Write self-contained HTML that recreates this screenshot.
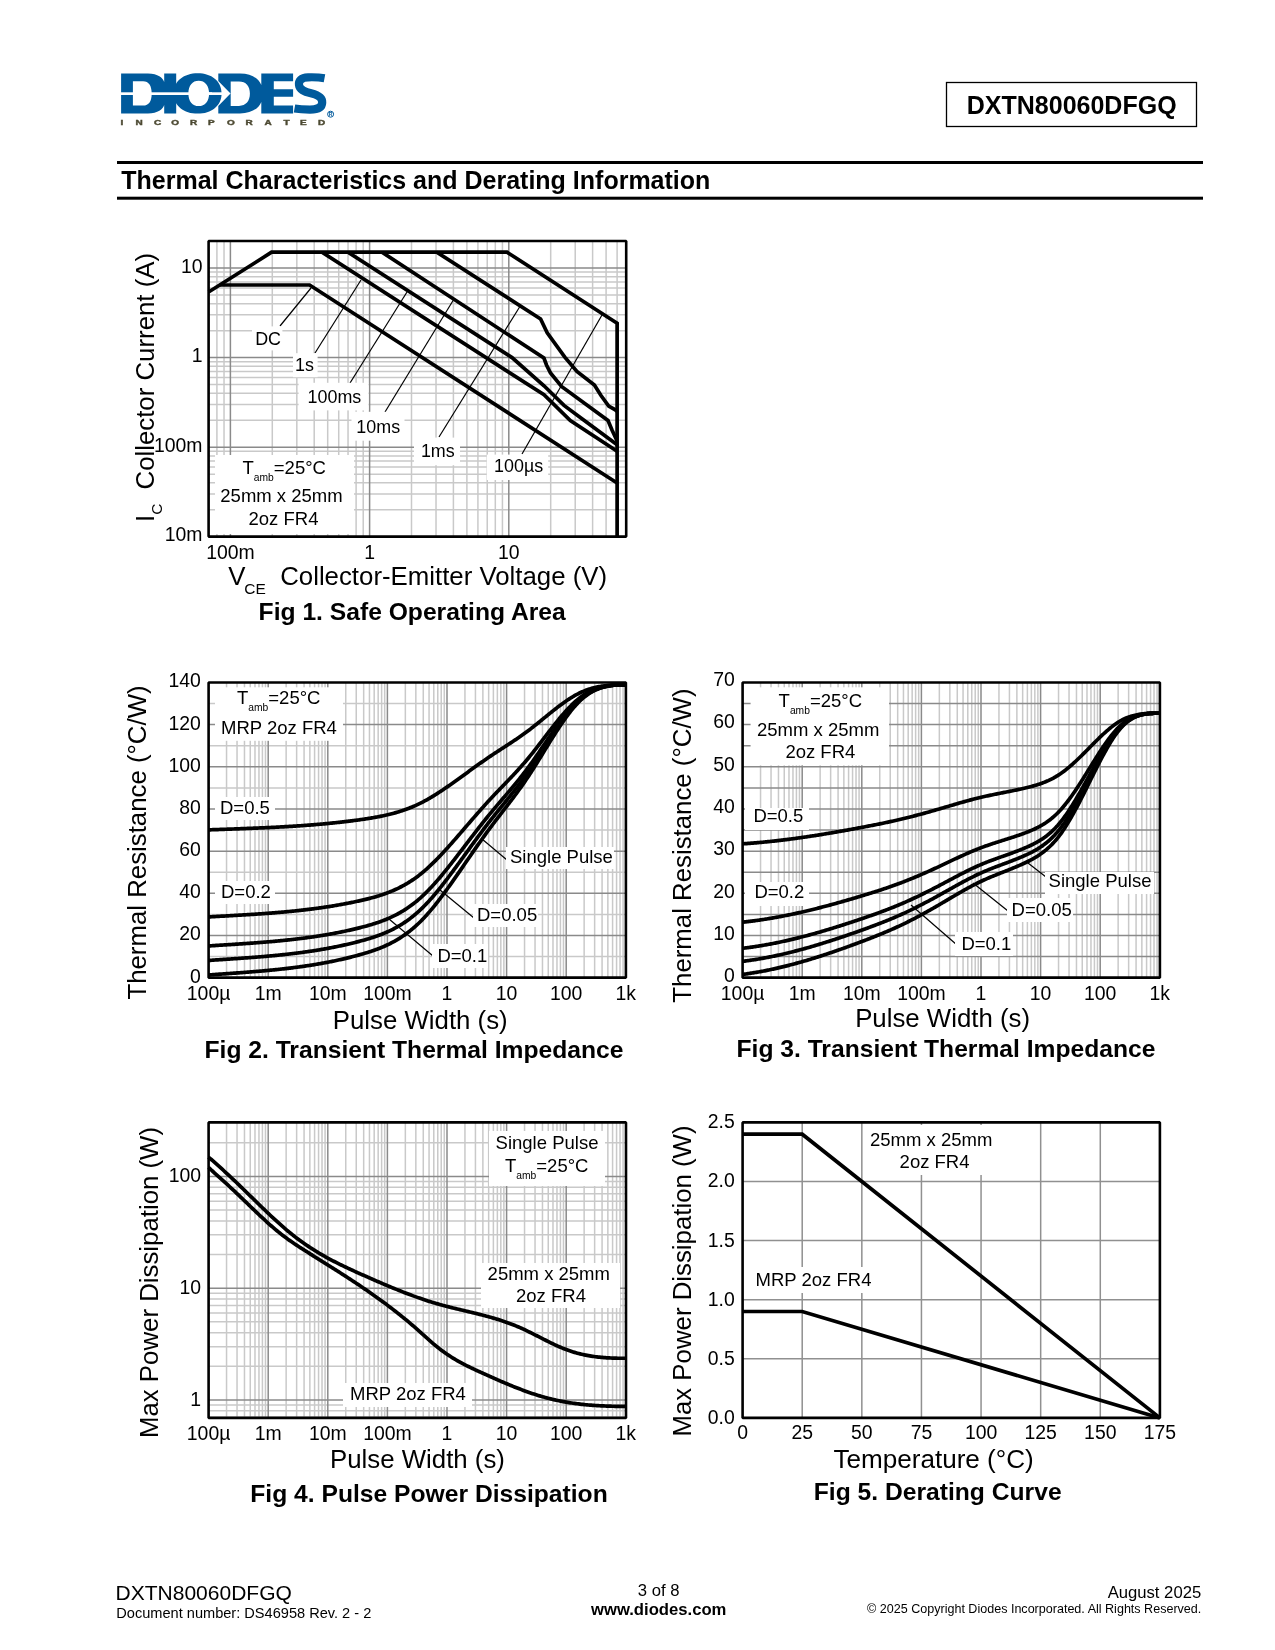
<!DOCTYPE html>
<html><head><meta charset="utf-8"><title>DXTN80060DFGQ</title>
<style>
html,body{margin:0;padding:0;background:#fff}
body{width:1275px;height:1650px;overflow:hidden;font-family:"Liberation Sans",sans-serif}
svg{display:block;font-family:"Liberation Sans",sans-serif;will-change:transform}
</style></head><body>
<svg width="1275" height="1650" viewBox="0 0 1275 1650">
<g fill="#005a9c">
<path fill-rule="evenodd" d="M121.1 73.5 H148 C158 73.5 163 78 164.2 82 V73.5 H176.2 V113.4 H164.2 V105 C163 109 158 113.4 148 113.4 H121.1 Z M132.9 81.2 V105.6 H143 C149 105.6 151.7 101 151.7 93.4 C151.7 86 149 81.2 143 81.2 Z"/>
<path fill-rule="evenodd" d="M218.3 73.5 H240 C252 73.5 259 79 261.3 85 V73.5 H293.1 V81.2 H273.8 V89.2 H293.1 V96.7 H273.8 V105.6 H293.1 V113.4 H261.3 V102 C259 108 252 113.4 240 113.4 H218.3 V105.9 L230.5 93.5 L218.3 80.9 Z M230.7 81.5 V105.9 H239 C246 105.9 249.9 101 249.9 93.6 C249.9 86 246 81.5 239 81.5 Z"/>
<path fill-rule="evenodd" d="M197.7 73.2 C184 73.2 173.6 81 173.6 93.4 C173.6 105.8 184 113.6 197.7 113.6 C211.4 113.6 221.6 105.8 221.6 93.4 C221.6 81 211.4 73.2 197.7 73.2 Z M198.7 80.7 C205 80.7 209.1 85.5 209.1 93.4 C209.1 101.3 205 106.1 198.7 106.1 C192.4 106.1 188.4 101.3 188.4 93.4 C188.4 85.5 192.4 80.7 198.7 80.7 Z"/>
</g>
<path d="M324.5 78.2 C318 77 312 77.2 308 77.3 C301 77.5 298.5 81 299 85 C299.5 89.5 304 91.5 311 93.3 C319 95.3 322.5 98 322.2 102.5 C322 107.5 317 109.6 310 109.6 C304 109.6 299 109.3 294.5 108.5" fill="none" stroke="#005a9c" stroke-width="8.2"/>
<rect x="120" y="92.3" width="92" height="2.7" fill="#fff" />
<rect x="208" y="92.3" width="14" height="2.7" fill="#fff" />
<circle cx="330.6" cy="114.2" r="3" fill="none" stroke="#005a9c" stroke-width="1"/>
<text x="330.6" y="116" font-size="5" font-weight="bold" text-anchor="middle" fill="#005a9c">R</text>
<text transform="translate(122 124.6) scale(1.35 1)" font-size="7.4" font-weight="bold" text-anchor="middle" fill="#4d4a33" stroke="#4d4a33" stroke-width="0.4">I</text>
<text transform="translate(139.2 124.6) scale(1.35 1)" font-size="7.4" font-weight="bold" text-anchor="middle" fill="#4d4a33" stroke="#4d4a33" stroke-width="0.4">N</text>
<text transform="translate(157.5 124.6) scale(1.35 1)" font-size="7.4" font-weight="bold" text-anchor="middle" fill="#4d4a33" stroke="#4d4a33" stroke-width="0.4">C</text>
<text transform="translate(175.2 124.6) scale(1.35 1)" font-size="7.4" font-weight="bold" text-anchor="middle" fill="#4d4a33" stroke="#4d4a33" stroke-width="0.4">O</text>
<text transform="translate(193.6 124.6) scale(1.35 1)" font-size="7.4" font-weight="bold" text-anchor="middle" fill="#4d4a33" stroke="#4d4a33" stroke-width="0.4">R</text>
<text transform="translate(211.4 124.6) scale(1.35 1)" font-size="7.4" font-weight="bold" text-anchor="middle" fill="#4d4a33" stroke="#4d4a33" stroke-width="0.4">P</text>
<text transform="translate(230.8 124.6) scale(1.35 1)" font-size="7.4" font-weight="bold" text-anchor="middle" fill="#4d4a33" stroke="#4d4a33" stroke-width="0.4">O</text>
<text transform="translate(249 124.6) scale(1.35 1)" font-size="7.4" font-weight="bold" text-anchor="middle" fill="#4d4a33" stroke="#4d4a33" stroke-width="0.4">R</text>
<text transform="translate(268 124.6) scale(1.35 1)" font-size="7.4" font-weight="bold" text-anchor="middle" fill="#4d4a33" stroke="#4d4a33" stroke-width="0.4">A</text>
<text transform="translate(286.5 124.6) scale(1.35 1)" font-size="7.4" font-weight="bold" text-anchor="middle" fill="#4d4a33" stroke="#4d4a33" stroke-width="0.4">T</text>
<text transform="translate(303.4 124.6) scale(1.35 1)" font-size="7.4" font-weight="bold" text-anchor="middle" fill="#4d4a33" stroke="#4d4a33" stroke-width="0.4">E</text>
<text transform="translate(321.5 124.6) scale(1.35 1)" font-size="7.4" font-weight="bold" text-anchor="middle" fill="#4d4a33" stroke="#4d4a33" stroke-width="0.4">D</text>
<rect x="946.5" y="82.5" width="250" height="44" fill="#fff" stroke="#000" stroke-width="1.3"/>
<text x="1071.7" y="113.8" font-size="25" text-anchor="middle" font-weight="bold" fill="#000" >DXTN80060DFGQ</text>
<rect x="117" y="161" width="1086" height="3" fill="#000" />
<rect x="117" y="196.7" width="1086" height="3" fill="#000" />
<text x="121.3" y="188.9" font-size="25" text-anchor="start" font-weight="bold" fill="#000" >Thermal Characteristics and Derating Information</text>
<rect x="208.6" y="241" width="417.6" height="295.6" fill="#fff" />
<path d="M216.91 241V536.6M224.03 241V536.6M272.3 241V536.6M296.82 241V536.6M314.21 241V536.6M327.7 241V536.6M338.72 241V536.6M348.04 241V536.6M356.11 241V536.6M363.23 241V536.6M411.5 241V536.6M436.02 241V536.6M453.41 241V536.6M466.9 241V536.6M477.92 241V536.6M487.24 241V536.6M495.31 241V536.6M502.43 241V536.6M550.7 241V536.6M575.22 241V536.6M592.61 241V536.6M606.1 241V536.6M617.12 241V536.6" stroke="#c9c9c9" stroke-width="1.5" fill="none"/>
<path d="M208.6 509.83H626.2M208.6 494.05H626.2M208.6 482.86H626.2M208.6 474.17H626.2M208.6 467.08H626.2M208.6 461.08H626.2M208.6 455.88H626.2M208.6 451.3H626.2M208.6 420.23H626.2M208.6 404.45H626.2M208.6 393.26H626.2M208.6 384.57H626.2M208.6 377.48H626.2M208.6 371.48H626.2M208.6 366.28H626.2M208.6 361.7H626.2M208.6 330.63H626.2M208.6 314.85H626.2M208.6 303.66H626.2M208.6 294.97H626.2M208.6 287.88H626.2M208.6 281.88H626.2M208.6 276.68H626.2M208.6 272.1H626.2" stroke="#c9c9c9" stroke-width="1.5" fill="none"/>
<path d="M230.4 241V536.6M369.6 241V536.6M508.8 241V536.6" stroke="#8a8a8a" stroke-width="1.5" fill="none"/>
<path d="M208.6 447.2H626.2M208.6 357.6H626.2M208.6 268H626.2" stroke="#8a8a8a" stroke-width="1.5" fill="none"/>
<line x1="311" y1="288" x2="280" y2="326" stroke="#000" stroke-width="1.2" />
<line x1="361" y1="280" x2="315" y2="353" stroke="#000" stroke-width="1.2" />
<line x1="407" y1="292" x2="350" y2="383" stroke="#000" stroke-width="1.2" />
<line x1="454" y1="299" x2="385" y2="412" stroke="#000" stroke-width="1.2" />
<line x1="519.6" y1="307" x2="439" y2="437" stroke="#000" stroke-width="1.2" />
<line x1="602" y1="315" x2="522" y2="454" stroke="#000" stroke-width="1.2" />
<rect x="252" y="326.4" width="30.4" height="24" fill="#fff" />
<text x="281" y="344.7" font-size="17.9" text-anchor="end" font-weight="normal" fill="#000" >DC</text>
<rect x="293" y="353.2" width="24.6" height="24" fill="#fff" />
<text x="314" y="371.1" font-size="17.9" text-anchor="end" font-weight="normal" fill="#000" >1s</text>
<rect x="298.6" y="382.8" width="69.9" height="27.6" fill="#fff" />
<text x="361.3" y="402.6" font-size="17.9" text-anchor="end" font-weight="normal" fill="#000" >100ms</text>
<rect x="351.5" y="411.8" width="53" height="28.9" fill="#fff" />
<text x="400.1" y="433" font-size="17.9" text-anchor="end" font-weight="normal" fill="#000" >10ms</text>
<rect x="414" y="437.6" width="46" height="27.6" fill="#fff" />
<text x="454.7" y="456.7" font-size="17.9" text-anchor="end" font-weight="normal" fill="#000" >1ms</text>
<rect x="486.8" y="454.6" width="61.4" height="25.4" fill="#fff" />
<text x="543.2" y="471.5" font-size="17.9" text-anchor="end" font-weight="normal" fill="#000" >100µs</text>
<path d="M219.69 285 L309.6 285 L617.12 482.94" fill="none" stroke="#000" stroke-width="3.7" stroke-linejoin="miter"/>
<path d="M322 252.22 L544 394.8 L570.3 420.6 L617.12 451.3" fill="none" stroke="#000" stroke-width="3.7" stroke-linejoin="miter"/>
<path d="M348 252.22 L512 357.6 L544 385.8 L564 405.4 L584 420.3 L617.12 444.8" fill="none" stroke="#000" stroke-width="3.7" stroke-linejoin="miter"/>
<path d="M382 252.22 L543.9 358 L546.5 365 L550.5 373 L561.5 386.5 L608 420.5 L612 430 L617.12 441" fill="none" stroke="#000" stroke-width="3.7" stroke-linejoin="miter"/>
<path d="M436.8 252.22 L540.6 319 L547.2 332.9 L564.8 357.1 L576.9 371.4 L594.4 385.1 L601 395.5 L608.7 406 L615.3 409.8 L617.12 411.5" fill="none" stroke="#000" stroke-width="3.7" stroke-linejoin="miter"/>
<path d="M208.6 292 L271.6 252.22 L507 252.22 L617.12 323.2 L617.12 536.6" fill="none" stroke="#000" stroke-width="3.7" stroke-linejoin="miter"/>
<rect x="215" y="455" width="139" height="79" fill="#fff" />
<text x="242.5" y="473.5" font-size="18.5">T<tspan font-size="10.27" dy="7.4">amb</tspan><tspan dy="-7.4">=25°C</tspan></text>
<text x="281.5" y="501.8" font-size="18.5" text-anchor="middle" font-weight="normal" fill="#000" >25mm x 25mm</text>
<text x="283.5" y="524.6" font-size="18.5" text-anchor="middle" font-weight="normal" fill="#000" >2oz FR4</text>
<rect x="208.6" y="241" width="417.6" height="295.6" fill="none" stroke="#000" stroke-width="2.6" stroke-linejoin="bevel"/>
<text x="202.5" y="272.6" font-size="19.4" text-anchor="end" font-weight="normal" fill="#000" >10</text>
<text x="202.5" y="362.2" font-size="19.4" text-anchor="end" font-weight="normal" fill="#000" >1</text>
<text x="202.5" y="451.8" font-size="19.4" text-anchor="end" font-weight="normal" fill="#000" >100m</text>
<text x="202.5" y="541.4" font-size="19.4" text-anchor="end" font-weight="normal" fill="#000" >10m</text>
<text x="230.4" y="559" font-size="19.4" text-anchor="middle" font-weight="normal" fill="#000" >100m</text>
<text x="369.6" y="559" font-size="19.4" text-anchor="middle" font-weight="normal" fill="#000" >1</text>
<text x="508.8" y="559" font-size="19.4" text-anchor="middle" font-weight="normal" fill="#000" >10</text>
<text transform="translate(154.4 522) rotate(-90)" font-size="25.8">I<tspan font-size="15.48" dy="7.74">C</tspan><tspan dy="-7.74" dx="7"> Collector Current (A)</tspan></text>
<text x="228.3" y="585.2" font-size="25.8">V<tspan font-size="15.48" dy="9.29" dx="-1.2">CE</tspan><tspan dy="-9.29" dx="7.2"> Collector-Emitter Voltage (V)</tspan></text>
<text x="412.2" y="619.7" font-size="24.65" text-anchor="middle" font-weight="bold" fill="#000" >Fig 1. Safe Operating Area</text>
<rect x="208.6" y="682.45" width="417.3" height="295.2" fill="#fff" />
<path d="M226.54 682.45V977.65M237.04 682.45V977.65M244.48 682.45V977.65M250.26 682.45V977.65M254.98 682.45V977.65M258.97 682.45V977.65M262.42 682.45V977.65M265.47 682.45V977.65M286.14 682.45V977.65M296.64 682.45V977.65M304.08 682.45V977.65M309.86 682.45V977.65M314.58 682.45V977.65M318.57 682.45V977.65M322.02 682.45V977.65M325.07 682.45V977.65M345.74 682.45V977.65M356.24 682.45V977.65M363.68 682.45V977.65M369.46 682.45V977.65M374.18 682.45V977.65M378.17 682.45V977.65M381.62 682.45V977.65M384.67 682.45V977.65M405.34 682.45V977.65M415.84 682.45V977.65M423.28 682.45V977.65M429.06 682.45V977.65M433.78 682.45V977.65M437.77 682.45V977.65M441.22 682.45V977.65M444.27 682.45V977.65M464.94 682.45V977.65M475.44 682.45V977.65M482.88 682.45V977.65M488.66 682.45V977.65M493.38 682.45V977.65M497.37 682.45V977.65M500.82 682.45V977.65M503.87 682.45V977.65M524.54 682.45V977.65M535.04 682.45V977.65M542.48 682.45V977.65M548.26 682.45V977.65M552.98 682.45V977.65M556.97 682.45V977.65M560.42 682.45V977.65M563.47 682.45V977.65M584.14 682.45V977.65M594.64 682.45V977.65M602.08 682.45V977.65M607.86 682.45V977.65M612.58 682.45V977.65M616.57 682.45V977.65M620.02 682.45V977.65M623.07 682.45V977.65" stroke="#c9c9c9" stroke-width="1.5" fill="none"/>
<path d="M208.6 956.56H625.9M208.6 914.39H625.9M208.6 872.22H625.9M208.6 830.05H625.9M208.6 787.88H625.9M208.6 745.71H625.9M208.6 703.54H625.9" stroke="#c9c9c9" stroke-width="1.5" fill="none"/>
<path d="M268.2 682.45V977.65M327.8 682.45V977.65M387.4 682.45V977.65M447 682.45V977.65M506.6 682.45V977.65M566.2 682.45V977.65" stroke="#8a8a8a" stroke-width="1.5" fill="none"/>
<path d="M208.6 935.48H625.9M208.6 893.31H625.9M208.6 851.14H625.9M208.6 808.96H625.9M208.6 766.79H625.9M208.6 724.62H625.9" stroke="#8a8a8a" stroke-width="1.5" fill="none"/>
<line x1="482" y1="839" x2="507" y2="860" stroke="#000" stroke-width="1.2" />
<line x1="440" y1="890" x2="474" y2="918" stroke="#000" stroke-width="1.2" />
<line x1="389" y1="919" x2="433" y2="956" stroke="#000" stroke-width="1.2" />
<rect x="506" y="847" width="108" height="22" fill="#fff" />
<text x="510" y="863" font-size="18.5" text-anchor="start" font-weight="normal" fill="#000" >Single Pulse</text>
<rect x="473" y="904" width="65" height="23" fill="#fff" />
<text x="477" y="921" font-size="18.5" text-anchor="start" font-weight="normal" fill="#000" >D=0.05</text>
<rect x="432" y="944" width="56" height="24" fill="#fff" />
<text x="437.4" y="962.4" font-size="18.5" text-anchor="start" font-weight="normal" fill="#000" >D=0.1</text>
<rect x="215" y="797" width="60" height="23" fill="#fff" />
<text x="220" y="814" font-size="18.5" text-anchor="start" font-weight="normal" fill="#000" >D=0.5</text>
<rect x="215" y="881" width="60" height="23" fill="#fff" />
<text x="221" y="898" font-size="18.5" text-anchor="start" font-weight="normal" fill="#000" >D=0.2</text>
<path d="M208.6 829.86 L209.65 829.83 L210.69 829.79 L211.74 829.75 L212.79 829.71 L213.83 829.68 L214.88 829.64 L215.93 829.6 L216.97 829.57 L218.02 829.53 L219.07 829.49 L220.11 829.46 L221.16 829.42 L222.21 829.38 L223.25 829.35 L224.3 829.31 L225.35 829.27 L226.39 829.24 L227.44 829.2 L228.49 829.16 L229.53 829.13 L230.58 829.09 L231.63 829.05 L232.67 829.01 L233.72 828.98 L234.77 828.94 L235.81 828.9 L236.86 828.86 L237.91 828.83 L238.95 828.79 L240 828.75 L241.05 828.71 L242.09 828.67 L243.14 828.63 L244.18 828.59 L245.23 828.55 L246.28 828.51 L247.32 828.47 L248.37 828.43 L249.42 828.39 L250.46 828.35 L251.51 828.31 L252.56 828.27 L253.6 828.22 L254.65 828.18 L255.7 828.14 L256.74 828.1 L257.79 828.05 L258.84 828.01 L259.88 827.96 L260.93 827.92 L261.98 827.87 L263.02 827.82 L264.07 827.78 L265.12 827.73 L266.16 827.68 L267.21 827.63 L268.26 827.59 L269.3 827.54 L270.35 827.49 L271.4 827.44 L272.44 827.38 L273.49 827.33 L274.54 827.28 L275.58 827.23 L276.63 827.17 L277.68 827.12 L278.72 827.06 L279.77 827.01 L280.82 826.95 L281.86 826.9 L282.91 826.84 L283.96 826.78 L285 826.72 L286.05 826.66 L287.1 826.6 L288.14 826.54 L289.19 826.47 L290.24 826.41 L291.28 826.35 L292.33 826.28 L293.38 826.22 L294.42 826.15 L295.47 826.08 L296.52 826.01 L297.56 825.94 L298.61 825.87 L299.66 825.8 L300.7 825.73 L301.75 825.66 L302.8 825.58 L303.84 825.51 L304.89 825.43 L305.94 825.36 L306.98 825.28 L308.03 825.2 L309.08 825.12 L310.12 825.04 L311.17 824.96 L312.22 824.87 L313.26 824.79 L314.31 824.7 L315.35 824.62 L316.4 824.53 L317.45 824.44 L318.49 824.35 L319.54 824.26 L320.59 824.17 L321.63 824.07 L322.68 823.98 L323.73 823.88 L324.77 823.79 L325.82 823.69 L326.87 823.59 L327.91 823.49 L328.96 823.38 L330.01 823.28 L331.05 823.18 L332.1 823.07 L333.15 822.96 L334.19 822.85 L335.24 822.74 L336.29 822.63 L337.33 822.52 L338.38 822.41 L339.43 822.29 L340.47 822.17 L341.52 822.05 L342.57 821.93 L343.61 821.81 L344.66 821.69 L345.71 821.57 L346.75 821.44 L347.8 821.31 L348.85 821.18 L349.89 821.05 L350.94 820.92 L351.99 820.79 L353.03 820.65 L354.08 820.52 L355.13 820.38 L356.17 820.24 L357.22 820.1 L358.27 819.96 L359.31 819.81 L360.36 819.66 L361.41 819.52 L362.45 819.37 L363.5 819.22 L364.55 819.06 L365.59 818.9 L366.64 818.75 L367.69 818.58 L368.73 818.42 L369.78 818.25 L370.83 818.08 L371.87 817.91 L372.92 817.73 L373.97 817.55 L375.01 817.36 L376.06 817.18 L377.11 816.98 L378.15 816.78 L379.2 816.58 L380.25 816.38 L381.29 816.16 L382.34 815.95 L383.38 815.73 L384.43 815.5 L385.48 815.27 L386.52 815.03 L387.57 814.78 L388.62 814.53 L389.66 814.28 L390.71 814.01 L391.76 813.74 L392.8 813.47 L393.85 813.18 L394.9 812.89 L395.94 812.6 L396.99 812.29 L398.04 811.98 L399.08 811.66 L400.13 811.33 L401.18 811 L402.22 810.65 L403.27 810.3 L404.32 809.94 L405.36 809.57 L406.41 809.19 L407.46 808.8 L408.5 808.4 L409.55 808 L410.6 807.58 L411.64 807.16 L412.69 806.72 L413.74 806.28 L414.78 805.82 L415.83 805.35 L416.88 804.88 L417.92 804.39 L418.97 803.89 L420.02 803.38 L421.06 802.86 L422.11 802.33 L423.16 801.79 L424.2 801.23 L425.25 800.67 L426.3 800.09 L427.34 799.51 L428.39 798.91 L429.44 798.31 L430.48 797.7 L431.53 797.07 L432.58 796.44 L433.62 795.8 L434.67 795.16 L435.72 794.5 L436.76 793.84 L437.81 793.17 L438.86 792.5 L439.9 791.81 L440.95 791.12 L442 790.43 L443.04 789.73 L444.09 789.02 L445.14 788.31 L446.18 787.59 L447.23 786.87 L448.28 786.14 L449.32 785.41 L450.37 784.68 L451.42 783.94 L452.46 783.2 L453.51 782.46 L454.55 781.71 L455.6 780.96 L456.65 780.21 L457.69 779.46 L458.74 778.7 L459.79 777.95 L460.83 777.19 L461.88 776.43 L462.93 775.67 L463.97 774.91 L465.02 774.16 L466.07 773.4 L467.11 772.64 L468.16 771.88 L469.21 771.12 L470.25 770.36 L471.3 769.6 L472.35 768.85 L473.39 768.09 L474.44 767.34 L475.49 766.59 L476.53 765.84 L477.58 765.09 L478.63 764.35 L479.67 763.61 L480.72 762.87 L481.77 762.13 L482.81 761.39 L483.86 760.66 L484.91 759.94 L485.95 759.21 L487 758.49 L488.05 757.77 L489.09 757.06 L490.14 756.35 L491.19 755.65 L492.23 754.95 L493.28 754.26 L494.33 753.57 L495.37 752.88 L496.42 752.19 L497.47 751.51 L498.51 750.83 L499.56 750.15 L500.61 749.47 L501.65 748.79 L502.7 748.11 L503.75 747.43 L504.79 746.76 L505.84 746.08 L506.89 745.4 L507.93 744.72 L508.98 744.03 L510.03 743.35 L511.07 742.66 L512.12 741.97 L513.17 741.28 L514.21 740.58 L515.26 739.88 L516.31 739.17 L517.35 738.46 L518.4 737.74 L519.45 737.02 L520.49 736.29 L521.54 735.56 L522.58 734.82 L523.63 734.07 L524.68 733.31 L525.72 732.55 L526.77 731.77 L527.82 730.99 L528.86 730.2 L529.91 729.41 L530.96 728.6 L532 727.79 L533.05 726.97 L534.1 726.14 L535.14 725.31 L536.19 724.48 L537.24 723.64 L538.28 722.79 L539.33 721.94 L540.38 721.09 L541.42 720.24 L542.47 719.39 L543.52 718.54 L544.56 717.68 L545.61 716.83 L546.66 715.98 L547.7 715.12 L548.75 714.28 L549.8 713.43 L550.84 712.59 L551.89 711.75 L552.94 710.91 L553.98 710.08 L555.03 709.26 L556.08 708.44 L557.12 707.63 L558.17 706.83 L559.22 706.04 L560.26 705.25 L561.31 704.47 L562.36 703.71 L563.4 702.95 L564.45 702.2 L565.5 701.47 L566.54 700.75 L567.59 700.04 L568.64 699.34 L569.68 698.66 L570.73 697.99 L571.78 697.34 L572.82 696.71 L573.87 696.08 L574.92 695.48 L575.96 694.9 L577.01 694.33 L578.06 693.78 L579.1 693.25 L580.15 692.74 L581.2 692.25 L582.24 691.78 L583.29 691.33 L584.34 690.9 L585.38 690.49 L586.43 690.09 L587.48 689.72 L588.52 689.36 L589.57 689.02 L590.62 688.7 L591.66 688.39 L592.71 688.1 L593.75 687.83 L594.8 687.57 L595.85 687.32 L596.89 687.09 L597.94 686.88 L598.99 686.67 L600.03 686.49 L601.08 686.31 L602.13 686.14 L603.17 685.99 L604.22 685.85 L605.27 685.72 L606.31 685.6 L607.36 685.49 L608.41 685.39 L609.45 685.3 L610.5 685.22 L611.55 685.15 L612.59 685.08 L613.64 685.02 L614.69 684.97 L615.73 684.93 L616.78 684.89 L617.83 684.86 L618.87 684.84 L619.92 684.82 L620.97 684.8 L622.01 684.79 L623.06 684.79 L624.11 684.79 L625.15 684.79 L626.2 684.8" fill="none" stroke="#000" stroke-width="3.7" stroke-linejoin="round"/>
<path d="M208.6 916.92 L209.65 916.86 L210.69 916.8 L211.74 916.74 L212.79 916.68 L213.83 916.62 L214.88 916.56 L215.93 916.5 L216.97 916.45 L218.02 916.39 L219.07 916.33 L220.11 916.27 L221.16 916.21 L222.21 916.15 L223.25 916.09 L224.3 916.04 L225.35 915.98 L226.39 915.92 L227.44 915.86 L228.49 915.8 L229.53 915.74 L230.58 915.68 L231.63 915.62 L232.67 915.56 L233.72 915.5 L234.77 915.44 L235.81 915.38 L236.86 915.32 L237.91 915.26 L238.95 915.2 L240 915.14 L241.05 915.08 L242.09 915.01 L243.14 914.95 L244.18 914.89 L245.23 914.82 L246.28 914.76 L247.32 914.7 L248.37 914.63 L249.42 914.57 L250.46 914.5 L251.51 914.43 L252.56 914.37 L253.6 914.3 L254.65 914.23 L255.7 914.16 L256.74 914.09 L257.79 914.02 L258.84 913.95 L259.88 913.88 L260.93 913.81 L261.98 913.73 L263.02 913.66 L264.07 913.58 L265.12 913.51 L266.16 913.43 L267.21 913.35 L268.26 913.28 L269.3 913.2 L270.35 913.12 L271.4 913.04 L272.44 912.95 L273.49 912.87 L274.54 912.79 L275.58 912.7 L276.63 912.62 L277.68 912.53 L278.72 912.44 L279.77 912.35 L280.82 912.26 L281.86 912.17 L282.91 912.08 L283.96 911.98 L285 911.89 L286.05 911.79 L287.1 911.7 L288.14 911.6 L289.19 911.5 L290.24 911.4 L291.28 911.29 L292.33 911.19 L293.38 911.08 L294.42 910.98 L295.47 910.87 L296.52 910.76 L297.56 910.65 L298.61 910.54 L299.66 910.42 L300.7 910.31 L301.75 910.19 L302.8 910.07 L303.84 909.95 L304.89 909.83 L305.94 909.71 L306.98 909.58 L308.03 909.46 L309.08 909.33 L310.12 909.2 L311.17 909.07 L312.22 908.93 L313.26 908.8 L314.31 908.66 L315.35 908.52 L316.4 908.38 L317.45 908.24 L318.49 908.1 L319.54 907.95 L320.59 907.81 L321.63 907.66 L322.68 907.5 L323.73 907.35 L324.77 907.2 L325.82 907.04 L326.87 906.88 L327.91 906.72 L328.96 906.55 L330.01 906.39 L331.05 906.22 L332.1 906.05 L333.15 905.88 L334.19 905.71 L335.24 905.53 L336.29 905.35 L337.33 905.17 L338.38 904.99 L339.43 904.8 L340.47 904.62 L341.52 904.43 L342.57 904.23 L343.61 904.04 L344.66 903.84 L345.71 903.64 L346.75 903.44 L347.8 903.24 L348.85 903.03 L349.89 902.83 L350.94 902.61 L351.99 902.4 L353.03 902.19 L354.08 901.97 L355.13 901.75 L356.17 901.52 L357.22 901.3 L358.27 901.07 L359.31 900.84 L360.36 900.6 L361.41 900.37 L362.45 900.13 L363.5 899.88 L364.55 899.64 L365.59 899.39 L366.64 899.13 L367.69 898.87 L368.73 898.61 L369.78 898.34 L370.83 898.07 L371.87 897.79 L372.92 897.51 L373.97 897.22 L375.01 896.92 L376.06 896.62 L377.11 896.31 L378.15 895.99 L379.2 895.67 L380.25 895.34 L381.29 895 L382.34 894.65 L383.38 894.3 L384.43 893.94 L385.48 893.56 L386.52 893.18 L387.57 892.79 L388.62 892.39 L389.66 891.98 L390.71 891.56 L391.76 891.13 L392.8 890.69 L393.85 890.23 L394.9 889.77 L395.94 889.29 L396.99 888.81 L398.04 888.31 L399.08 887.79 L400.13 887.27 L401.18 886.73 L402.22 886.18 L403.27 885.62 L404.32 885.04 L405.36 884.45 L406.41 883.84 L407.46 883.22 L408.5 882.59 L409.55 881.94 L410.6 881.27 L411.64 880.59 L412.69 879.89 L413.74 879.18 L414.78 878.45 L415.83 877.7 L416.88 876.94 L417.92 876.16 L418.97 875.36 L420.02 874.55 L421.06 873.72 L422.11 872.86 L423.16 871.99 L424.2 871.11 L425.25 870.21 L426.3 869.29 L427.34 868.35 L428.39 867.4 L429.44 866.43 L430.48 865.45 L431.53 864.46 L432.58 863.45 L433.62 862.43 L434.67 861.39 L435.72 860.34 L436.76 859.28 L437.81 858.21 L438.86 857.13 L439.9 856.04 L440.95 854.94 L442 853.82 L443.04 852.7 L444.09 851.57 L445.14 850.43 L446.18 849.28 L447.23 848.13 L448.28 846.97 L449.32 845.8 L450.37 844.63 L451.42 843.45 L452.46 842.26 L453.51 841.07 L454.55 839.88 L455.6 838.68 L456.65 837.48 L457.69 836.27 L458.74 835.06 L459.79 833.85 L460.83 832.64 L461.88 831.43 L462.93 830.22 L463.97 829 L465.02 827.79 L466.07 826.57 L467.11 825.36 L468.16 824.14 L469.21 822.93 L470.25 821.72 L471.3 820.51 L472.35 819.3 L473.39 818.09 L474.44 816.88 L475.49 815.68 L476.53 814.48 L477.58 813.29 L478.63 812.1 L479.67 810.91 L480.72 809.72 L481.77 808.54 L482.81 807.37 L483.86 806.2 L484.91 805.03 L485.95 803.88 L487 802.72 L488.05 801.58 L489.09 800.44 L490.14 799.31 L491.19 798.18 L492.23 797.06 L493.28 795.95 L494.33 794.84 L495.37 793.74 L496.42 792.64 L497.47 791.55 L498.51 790.46 L499.56 789.37 L500.61 788.29 L501.65 787.2 L502.7 786.12 L503.75 785.03 L504.79 783.95 L505.84 782.86 L506.89 781.77 L507.93 780.68 L508.98 779.59 L510.03 778.49 L511.07 777.39 L512.12 776.29 L513.17 775.18 L514.21 774.06 L515.26 772.94 L516.31 771.81 L517.35 770.67 L518.4 769.52 L519.45 768.37 L520.49 767.2 L521.54 766.03 L522.58 764.84 L523.63 763.65 L524.68 762.44 L525.72 761.21 L526.77 759.98 L527.82 758.73 L528.86 757.47 L529.91 756.19 L530.96 754.9 L532 753.6 L533.05 752.29 L534.1 750.97 L535.14 749.64 L536.19 748.3 L537.24 746.95 L538.28 745.6 L539.33 744.25 L540.38 742.89 L541.42 741.53 L542.47 740.16 L543.52 738.8 L544.56 737.43 L545.61 736.06 L546.66 734.7 L547.7 733.34 L548.75 731.98 L549.8 730.63 L550.84 729.28 L551.89 727.94 L552.94 726.6 L553.98 725.27 L555.03 723.96 L556.08 722.65 L557.12 721.35 L558.17 720.07 L559.22 718.8 L560.26 717.54 L561.31 716.3 L562.36 715.07 L563.4 713.86 L564.45 712.66 L565.5 711.49 L566.54 710.34 L567.59 709.2 L568.64 708.09 L569.68 707 L570.73 705.93 L571.78 704.88 L572.82 703.87 L573.87 702.87 L574.92 701.91 L575.96 700.97 L577.01 700.06 L578.06 699.18 L579.1 698.34 L580.15 697.52 L581.2 696.74 L582.24 695.98 L583.29 695.26 L584.34 694.58 L585.38 693.92 L586.43 693.29 L587.48 692.69 L588.52 692.12 L589.57 691.57 L590.62 691.06 L591.66 690.57 L592.71 690.1 L593.75 689.66 L594.8 689.25 L595.85 688.86 L596.89 688.49 L597.94 688.14 L598.99 687.82 L600.03 687.51 L601.08 687.23 L602.13 686.97 L603.17 686.72 L604.22 686.5 L605.27 686.29 L606.31 686.1 L607.36 685.92 L608.41 685.76 L609.45 685.62 L610.5 685.49 L611.55 685.37 L612.59 685.27 L613.64 685.18 L614.69 685.1 L615.73 685.03 L616.78 684.97 L617.83 684.92 L618.87 684.88 L619.92 684.85 L620.97 684.82 L622.01 684.81 L623.06 684.8 L624.11 684.8 L625.15 684.8 L626.2 684.81" fill="none" stroke="#000" stroke-width="3.7" stroke-linejoin="round"/>
<path d="M208.6 945.94 L209.65 945.87 L210.69 945.8 L211.74 945.74 L212.79 945.67 L213.83 945.6 L214.88 945.54 L215.93 945.47 L216.97 945.41 L218.02 945.34 L219.07 945.27 L220.11 945.21 L221.16 945.14 L222.21 945.08 L223.25 945.01 L224.3 944.94 L225.35 944.88 L226.39 944.81 L227.44 944.74 L228.49 944.68 L229.53 944.61 L230.58 944.55 L231.63 944.48 L232.67 944.41 L233.72 944.34 L234.77 944.28 L235.81 944.21 L236.86 944.14 L237.91 944.07 L238.95 944 L240 943.93 L241.05 943.86 L242.09 943.79 L243.14 943.72 L244.18 943.65 L245.23 943.58 L246.28 943.51 L247.32 943.44 L248.37 943.36 L249.42 943.29 L250.46 943.22 L251.51 943.14 L252.56 943.07 L253.6 942.99 L254.65 942.91 L255.7 942.83 L256.74 942.76 L257.79 942.68 L258.84 942.6 L259.88 942.52 L260.93 942.44 L261.98 942.35 L263.02 942.27 L264.07 942.19 L265.12 942.1 L266.16 942.01 L267.21 941.93 L268.26 941.84 L269.3 941.75 L270.35 941.66 L271.4 941.57 L272.44 941.48 L273.49 941.38 L274.54 941.29 L275.58 941.19 L276.63 941.1 L277.68 941 L278.72 940.9 L279.77 940.8 L280.82 940.7 L281.86 940.6 L282.91 940.49 L283.96 940.39 L285 940.28 L286.05 940.17 L287.1 940.06 L288.14 939.95 L289.19 939.84 L290.24 939.72 L291.28 939.61 L292.33 939.49 L293.38 939.37 L294.42 939.25 L295.47 939.13 L296.52 939.01 L297.56 938.88 L298.61 938.76 L299.66 938.63 L300.7 938.5 L301.75 938.37 L302.8 938.24 L303.84 938.1 L304.89 937.96 L305.94 937.83 L306.98 937.69 L308.03 937.54 L309.08 937.4 L310.12 937.25 L311.17 937.11 L312.22 936.96 L313.26 936.8 L314.31 936.65 L315.35 936.49 L316.4 936.34 L317.45 936.18 L318.49 936.01 L319.54 935.85 L320.59 935.68 L321.63 935.52 L322.68 935.35 L323.73 935.17 L324.77 935 L325.82 934.82 L326.87 934.64 L327.91 934.46 L328.96 934.28 L330.01 934.09 L331.05 933.9 L332.1 933.71 L333.15 933.52 L334.19 933.32 L335.24 933.12 L336.29 932.92 L337.33 932.72 L338.38 932.52 L339.43 932.31 L340.47 932.1 L341.52 931.88 L342.57 931.67 L343.61 931.45 L344.66 931.23 L345.71 931 L346.75 930.78 L347.8 930.55 L348.85 930.32 L349.89 930.08 L350.94 929.85 L351.99 929.61 L353.03 929.36 L354.08 929.12 L355.13 928.87 L356.17 928.62 L357.22 928.36 L358.27 928.1 L359.31 927.84 L360.36 927.58 L361.41 927.31 L362.45 927.04 L363.5 926.77 L364.55 926.49 L365.59 926.21 L366.64 925.93 L367.69 925.64 L368.73 925.34 L369.78 925.04 L370.83 924.73 L371.87 924.42 L372.92 924.1 L373.97 923.77 L375.01 923.44 L376.06 923.1 L377.11 922.75 L378.15 922.4 L379.2 922.03 L380.25 921.66 L381.29 921.28 L382.34 920.89 L383.38 920.49 L384.43 920.08 L385.48 919.66 L386.52 919.23 L387.57 918.79 L388.62 918.34 L389.66 917.88 L390.71 917.41 L391.76 916.92 L392.8 916.43 L393.85 915.92 L394.9 915.39 L395.94 914.86 L396.99 914.31 L398.04 913.75 L399.08 913.17 L400.13 912.58 L401.18 911.98 L402.22 911.36 L403.27 910.72 L404.32 910.07 L405.36 909.41 L406.41 908.73 L407.46 908.03 L408.5 907.31 L409.55 906.58 L410.6 905.83 L411.64 905.07 L412.69 904.28 L413.74 903.48 L414.78 902.66 L415.83 901.82 L416.88 900.96 L417.92 900.08 L418.97 899.19 L420.02 898.27 L421.06 897.33 L422.11 896.38 L423.16 895.4 L424.2 894.4 L425.25 893.38 L426.3 892.35 L427.34 891.3 L428.39 890.23 L429.44 889.14 L430.48 888.04 L431.53 886.92 L432.58 885.78 L433.62 884.63 L434.67 883.47 L435.72 882.29 L436.76 881.1 L437.81 879.89 L438.86 878.68 L439.9 877.45 L440.95 876.21 L442 874.95 L443.04 873.69 L444.09 872.42 L445.14 871.14 L446.18 869.85 L447.23 868.55 L448.28 867.24 L449.32 865.93 L450.37 864.61 L451.42 863.28 L452.46 861.95 L453.51 860.61 L454.55 859.26 L455.6 857.92 L456.65 856.56 L457.69 855.21 L458.74 853.85 L459.79 852.49 L460.83 851.13 L461.88 849.76 L462.93 848.4 L463.97 847.03 L465.02 845.66 L466.07 844.3 L467.11 842.93 L468.16 841.56 L469.21 840.2 L470.25 838.83 L471.3 837.47 L472.35 836.11 L473.39 834.75 L474.44 833.4 L475.49 832.05 L476.53 830.7 L477.58 829.35 L478.63 828.01 L479.67 826.67 L480.72 825.34 L481.77 824.01 L482.81 822.69 L483.86 821.38 L484.91 820.07 L485.95 818.76 L487 817.47 L488.05 816.18 L489.09 814.9 L490.14 813.62 L491.19 812.36 L492.23 811.1 L493.28 809.85 L494.33 808.6 L495.37 807.36 L496.42 806.13 L497.47 804.9 L498.51 803.67 L499.56 802.45 L500.61 801.22 L501.65 800 L502.7 798.78 L503.75 797.56 L504.79 796.34 L505.84 795.12 L506.89 793.9 L507.93 792.67 L508.98 791.44 L510.03 790.21 L511.07 788.97 L512.12 787.73 L513.17 786.48 L514.21 785.22 L515.26 783.96 L516.31 782.69 L517.35 781.41 L518.4 780.12 L519.45 778.82 L520.49 777.51 L521.54 776.19 L522.58 774.85 L523.63 773.5 L524.68 772.14 L525.72 770.77 L526.77 769.38 L527.82 767.97 L528.86 766.55 L529.91 765.12 L530.96 763.67 L532 762.2 L533.05 760.73 L534.1 759.24 L535.14 757.75 L536.19 756.24 L537.24 754.73 L538.28 753.21 L539.33 751.68 L540.38 750.15 L541.42 748.62 L542.47 747.09 L543.52 745.55 L544.56 744.01 L545.61 742.47 L546.66 740.94 L547.7 739.41 L548.75 737.88 L549.8 736.36 L550.84 734.84 L551.89 733.33 L552.94 731.83 L553.98 730.34 L555.03 728.85 L556.08 727.38 L557.12 725.93 L558.17 724.48 L559.22 723.05 L560.26 721.63 L561.31 720.24 L562.36 718.86 L563.4 717.49 L564.45 716.15 L565.5 714.83 L566.54 713.53 L567.59 712.25 L568.64 711 L569.68 709.77 L570.73 708.57 L571.78 707.4 L572.82 706.25 L573.87 705.14 L574.92 704.05 L575.96 703 L577.01 701.97 L578.06 700.99 L579.1 700.03 L580.15 699.11 L581.2 698.23 L582.24 697.39 L583.29 696.58 L584.34 695.8 L585.38 695.06 L586.43 694.35 L587.48 693.68 L588.52 693.04 L589.57 692.43 L590.62 691.84 L591.66 691.29 L592.71 690.77 L593.75 690.28 L594.8 689.81 L595.85 689.37 L596.89 688.95 L597.94 688.56 L598.99 688.2 L600.03 687.86 L601.08 687.54 L602.13 687.24 L603.17 686.97 L604.22 686.71 L605.27 686.48 L606.31 686.26 L607.36 686.07 L608.41 685.89 L609.45 685.72 L610.5 685.58 L611.55 685.45 L612.59 685.33 L613.64 685.23 L614.69 685.14 L615.73 685.06 L616.78 684.99 L617.83 684.94 L618.87 684.89 L619.92 684.86 L620.97 684.83 L622.01 684.81 L623.06 684.8 L624.11 684.8 L625.15 684.81 L626.2 684.82" fill="none" stroke="#000" stroke-width="3.7" stroke-linejoin="round"/>
<path d="M208.6 960.45 L209.65 960.38 L210.69 960.31 L211.74 960.24 L212.79 960.17 L213.83 960.09 L214.88 960.02 L215.93 959.95 L216.97 959.88 L218.02 959.82 L219.07 959.75 L220.11 959.68 L221.16 959.61 L222.21 959.54 L223.25 959.47 L224.3 959.4 L225.35 959.33 L226.39 959.26 L227.44 959.19 L228.49 959.12 L229.53 959.05 L230.58 958.98 L231.63 958.91 L232.67 958.84 L233.72 958.76 L234.77 958.69 L235.81 958.62 L236.86 958.55 L237.91 958.48 L238.95 958.4 L240 958.33 L241.05 958.26 L242.09 958.18 L243.14 958.11 L244.18 958.03 L245.23 957.96 L246.28 957.88 L247.32 957.81 L248.37 957.73 L249.42 957.65 L250.46 957.57 L251.51 957.49 L252.56 957.42 L253.6 957.33 L254.65 957.25 L255.7 957.17 L256.74 957.09 L257.79 957.01 L258.84 956.92 L259.88 956.84 L260.93 956.75 L261.98 956.66 L263.02 956.58 L264.07 956.49 L265.12 956.4 L266.16 956.31 L267.21 956.21 L268.26 956.12 L269.3 956.03 L270.35 955.93 L271.4 955.84 L272.44 955.74 L273.49 955.64 L274.54 955.54 L275.58 955.44 L276.63 955.34 L277.68 955.23 L278.72 955.13 L279.77 955.02 L280.82 954.92 L281.86 954.81 L282.91 954.7 L283.96 954.59 L285 954.47 L286.05 954.36 L287.1 954.24 L288.14 954.13 L289.19 954.01 L290.24 953.89 L291.28 953.77 L292.33 953.64 L293.38 953.52 L294.42 953.39 L295.47 953.26 L296.52 953.13 L297.56 953 L298.61 952.87 L299.66 952.73 L300.7 952.6 L301.75 952.46 L302.8 952.32 L303.84 952.17 L304.89 952.03 L305.94 951.88 L306.98 951.74 L308.03 951.59 L309.08 951.43 L310.12 951.28 L311.17 951.12 L312.22 950.97 L313.26 950.81 L314.31 950.64 L315.35 950.48 L316.4 950.31 L317.45 950.14 L318.49 949.97 L319.54 949.8 L320.59 949.62 L321.63 949.45 L322.68 949.27 L323.73 949.08 L324.77 948.9 L325.82 948.71 L326.87 948.52 L327.91 948.33 L328.96 948.14 L330.01 947.94 L331.05 947.74 L332.1 947.54 L333.15 947.34 L334.19 947.13 L335.24 946.92 L336.29 946.71 L337.33 946.5 L338.38 946.28 L339.43 946.06 L340.47 945.84 L341.52 945.61 L342.57 945.38 L343.61 945.15 L344.66 944.92 L345.71 944.68 L346.75 944.45 L347.8 944.2 L348.85 943.96 L349.89 943.71 L350.94 943.46 L351.99 943.21 L353.03 942.95 L354.08 942.69 L355.13 942.43 L356.17 942.16 L357.22 941.89 L358.27 941.62 L359.31 941.35 L360.36 941.07 L361.41 940.79 L362.45 940.5 L363.5 940.22 L364.55 939.92 L365.59 939.63 L366.64 939.32 L367.69 939.02 L368.73 938.71 L369.78 938.39 L370.83 938.06 L371.87 937.73 L372.92 937.4 L373.97 937.05 L375.01 936.7 L376.06 936.34 L377.11 935.97 L378.15 935.6 L379.2 935.21 L380.25 934.82 L381.29 934.42 L382.34 934.01 L383.38 933.59 L384.43 933.15 L385.48 932.71 L386.52 932.26 L387.57 931.79 L388.62 931.32 L389.66 930.83 L390.71 930.33 L391.76 929.82 L392.8 929.29 L393.85 928.76 L394.9 928.21 L395.94 927.64 L396.99 927.06 L398.04 926.47 L399.08 925.86 L400.13 925.24 L401.18 924.6 L402.22 923.95 L403.27 923.28 L404.32 922.59 L405.36 921.89 L406.41 921.17 L407.46 920.43 L408.5 919.68 L409.55 918.9 L410.6 918.11 L411.64 917.31 L412.69 916.48 L413.74 915.63 L414.78 914.77 L415.83 913.88 L416.88 912.97 L417.92 912.05 L418.97 911.1 L420.02 910.13 L421.06 909.14 L422.11 908.13 L423.16 907.1 L424.2 906.05 L425.25 904.97 L426.3 903.88 L427.34 902.77 L428.39 901.64 L429.44 900.49 L430.48 899.33 L431.53 898.15 L432.58 896.95 L433.62 895.74 L434.67 894.51 L435.72 893.26 L436.76 892 L437.81 890.73 L438.86 889.45 L439.9 888.15 L440.95 886.84 L442 885.52 L443.04 884.19 L444.09 882.85 L445.14 881.49 L446.18 880.13 L447.23 878.76 L448.28 877.38 L449.32 875.99 L450.37 874.6 L451.42 873.2 L452.46 871.79 L453.51 870.38 L454.55 868.96 L455.6 867.54 L456.65 866.11 L457.69 864.68 L458.74 863.24 L459.79 861.81 L460.83 860.37 L461.88 858.93 L462.93 857.49 L463.97 856.04 L465.02 854.6 L466.07 853.16 L467.11 851.72 L468.16 850.27 L469.21 848.83 L470.25 847.39 L471.3 845.96 L472.35 844.52 L473.39 843.09 L474.44 841.66 L475.49 840.23 L476.53 838.8 L477.58 837.38 L478.63 835.97 L479.67 834.56 L480.72 833.15 L481.77 831.75 L482.81 830.36 L483.86 828.97 L484.91 827.58 L485.95 826.21 L487 824.84 L488.05 823.48 L489.09 822.13 L490.14 820.78 L491.19 819.45 L492.23 818.12 L493.28 816.8 L494.33 815.48 L495.37 814.17 L496.42 812.87 L497.47 811.57 L498.51 810.28 L499.56 808.98 L500.61 807.69 L501.65 806.41 L502.7 805.12 L503.75 803.83 L504.79 802.54 L505.84 801.25 L506.89 799.96 L507.93 798.67 L508.98 797.37 L510.03 796.07 L511.07 794.76 L512.12 793.45 L513.17 792.13 L514.21 790.8 L515.26 789.47 L516.31 788.13 L517.35 786.78 L518.4 785.42 L519.45 784.04 L520.49 782.66 L521.54 781.26 L522.58 779.86 L523.63 778.43 L524.68 777 L525.72 775.55 L526.77 774.08 L527.82 772.6 L528.86 771.1 L529.91 769.58 L530.96 768.05 L532 766.5 L533.05 764.95 L534.1 763.38 L535.14 761.8 L536.19 760.21 L537.24 758.61 L538.28 757.01 L539.33 755.4 L540.38 753.79 L541.42 752.17 L542.47 750.55 L543.52 748.93 L544.56 747.3 L545.61 745.68 L546.66 744.06 L547.7 742.44 L548.75 740.83 L549.8 739.22 L550.84 737.62 L551.89 736.03 L552.94 734.44 L553.98 732.87 L555.03 731.3 L556.08 729.75 L557.12 728.21 L558.17 726.69 L559.22 725.18 L560.26 723.68 L561.31 722.21 L562.36 720.75 L563.4 719.31 L564.45 717.89 L565.5 716.5 L566.54 715.13 L567.59 713.78 L568.64 712.46 L569.68 711.16 L570.73 709.9 L571.78 708.66 L572.82 707.45 L573.87 706.27 L574.92 705.12 L575.96 704.01 L577.01 702.93 L578.06 701.89 L579.1 700.88 L580.15 699.91 L581.2 698.98 L582.24 698.09 L583.29 697.23 L584.34 696.41 L585.38 695.63 L586.43 694.89 L587.48 694.17 L588.52 693.5 L589.57 692.85 L590.62 692.24 L591.66 691.66 L592.71 691.1 L593.75 690.58 L594.8 690.09 L595.85 689.62 L596.89 689.19 L597.94 688.78 L598.99 688.39 L600.03 688.03 L601.08 687.69 L602.13 687.38 L603.17 687.09 L604.22 686.82 L605.27 686.57 L606.31 686.35 L607.36 686.14 L608.41 685.95 L609.45 685.78 L610.5 685.62 L611.55 685.48 L612.59 685.36 L613.64 685.25 L614.69 685.16 L615.73 685.08 L616.78 685.01 L617.83 684.95 L618.87 684.9 L619.92 684.86 L620.97 684.84 L622.01 684.82 L623.06 684.81 L624.11 684.8 L625.15 684.81 L626.2 684.82" fill="none" stroke="#000" stroke-width="3.7" stroke-linejoin="round"/>
<path d="M208.6 974.96 L209.65 974.88 L210.69 974.81 L211.74 974.73 L212.79 974.66 L213.83 974.59 L214.88 974.51 L215.93 974.44 L216.97 974.36 L218.02 974.29 L219.07 974.22 L220.11 974.14 L221.16 974.07 L222.21 974 L223.25 973.92 L224.3 973.85 L225.35 973.78 L226.39 973.7 L227.44 973.63 L228.49 973.56 L229.53 973.48 L230.58 973.41 L231.63 973.34 L232.67 973.26 L233.72 973.19 L234.77 973.11 L235.81 973.04 L236.86 972.96 L237.91 972.88 L238.95 972.81 L240 972.73 L241.05 972.65 L242.09 972.57 L243.14 972.5 L244.18 972.42 L245.23 972.34 L246.28 972.26 L247.32 972.18 L248.37 972.1 L249.42 972.01 L250.46 971.93 L251.51 971.85 L252.56 971.76 L253.6 971.68 L254.65 971.59 L255.7 971.51 L256.74 971.42 L257.79 971.33 L258.84 971.24 L259.88 971.16 L260.93 971.06 L261.98 970.97 L263.02 970.88 L264.07 970.79 L265.12 970.69 L266.16 970.6 L267.21 970.5 L268.26 970.4 L269.3 970.3 L270.35 970.2 L271.4 970.1 L272.44 970 L273.49 969.9 L274.54 969.79 L275.58 969.69 L276.63 969.58 L277.68 969.47 L278.72 969.36 L279.77 969.25 L280.82 969.14 L281.86 969.02 L282.91 968.91 L283.96 968.79 L285 968.67 L286.05 968.55 L287.1 968.43 L288.14 968.3 L289.19 968.18 L290.24 968.05 L291.28 967.92 L292.33 967.79 L293.38 967.66 L294.42 967.53 L295.47 967.39 L296.52 967.26 L297.56 967.12 L298.61 966.98 L299.66 966.84 L300.7 966.69 L301.75 966.55 L302.8 966.4 L303.84 966.25 L304.89 966.1 L305.94 965.94 L306.98 965.79 L308.03 965.63 L309.08 965.47 L310.12 965.31 L311.17 965.14 L312.22 964.98 L313.26 964.81 L314.31 964.64 L315.35 964.46 L316.4 964.29 L317.45 964.11 L318.49 963.93 L319.54 963.75 L320.59 963.56 L321.63 963.38 L322.68 963.19 L323.73 963 L324.77 962.8 L325.82 962.6 L326.87 962.41 L327.91 962.2 L328.96 962 L330.01 961.79 L331.05 961.58 L332.1 961.37 L333.15 961.16 L334.19 960.94 L335.24 960.72 L336.29 960.5 L337.33 960.27 L338.38 960.04 L339.43 959.81 L340.47 959.58 L341.52 959.34 L342.57 959.1 L343.61 958.86 L344.66 958.61 L345.71 958.36 L346.75 958.11 L347.8 957.86 L348.85 957.6 L349.89 957.34 L350.94 957.08 L351.99 956.81 L353.03 956.54 L354.08 956.27 L355.13 955.99 L356.17 955.71 L357.22 955.43 L358.27 955.14 L359.31 954.85 L360.36 954.56 L361.41 954.26 L362.45 953.96 L363.5 953.66 L364.55 953.35 L365.59 953.04 L366.64 952.72 L367.69 952.4 L368.73 952.07 L369.78 951.74 L370.83 951.39 L371.87 951.05 L372.92 950.69 L373.97 950.33 L375.01 949.96 L376.06 949.58 L377.11 949.2 L378.15 948.8 L379.2 948.4 L380.25 947.98 L381.29 947.56 L382.34 947.13 L383.38 946.68 L384.43 946.23 L385.48 945.76 L386.52 945.28 L387.57 944.8 L388.62 944.3 L389.66 943.78 L390.71 943.26 L391.76 942.72 L392.8 942.16 L393.85 941.6 L394.9 941.02 L395.94 940.42 L396.99 939.81 L398.04 939.19 L399.08 938.55 L400.13 937.89 L401.18 937.22 L402.22 936.53 L403.27 935.83 L404.32 935.11 L405.36 934.37 L406.41 933.61 L407.46 932.83 L408.5 932.04 L409.55 931.23 L410.6 930.4 L411.64 929.54 L412.69 928.67 L413.74 927.78 L414.78 926.87 L415.83 925.94 L416.88 924.98 L417.92 924.01 L418.97 923.01 L420.02 921.99 L421.06 920.95 L422.11 919.89 L423.16 918.8 L424.2 917.69 L425.25 916.56 L426.3 915.41 L427.34 914.24 L428.39 913.06 L429.44 911.85 L430.48 910.62 L431.53 909.38 L432.58 908.12 L433.62 906.84 L434.67 905.55 L435.72 904.24 L436.76 902.91 L437.81 901.57 L438.86 900.22 L439.9 898.86 L440.95 897.48 L442 896.09 L443.04 894.68 L444.09 893.27 L445.14 891.85 L446.18 890.41 L447.23 888.97 L448.28 887.52 L449.32 886.06 L450.37 884.59 L451.42 883.12 L452.46 881.63 L453.51 880.15 L454.55 878.65 L455.6 877.16 L456.65 875.65 L457.69 874.15 L458.74 872.64 L459.79 871.12 L460.83 869.61 L461.88 868.09 L462.93 866.58 L463.97 865.06 L465.02 863.54 L466.07 862.02 L467.11 860.5 L468.16 858.99 L469.21 857.47 L470.25 855.95 L471.3 854.44 L472.35 852.93 L473.39 851.42 L474.44 849.91 L475.49 848.41 L476.53 846.91 L477.58 845.42 L478.63 843.93 L479.67 842.44 L480.72 840.96 L481.77 839.49 L482.81 838.02 L483.86 836.56 L484.91 835.1 L485.95 833.65 L487 832.21 L488.05 830.78 L489.09 829.36 L490.14 827.94 L491.19 826.53 L492.23 825.14 L493.28 823.75 L494.33 822.36 L495.37 820.98 L496.42 819.61 L497.47 818.25 L498.51 816.88 L499.56 815.52 L500.61 814.16 L501.65 812.81 L502.7 811.45 L503.75 810.1 L504.79 808.74 L505.84 807.38 L506.89 806.02 L507.93 804.66 L508.98 803.3 L510.03 801.93 L511.07 800.55 L512.12 799.17 L513.17 797.78 L514.21 796.39 L515.26 794.98 L516.31 793.57 L517.35 792.15 L518.4 790.71 L519.45 789.27 L520.49 787.81 L521.54 786.34 L522.58 784.86 L523.63 783.36 L524.68 781.85 L525.72 780.32 L526.77 778.78 L527.82 777.22 L528.86 775.64 L529.91 774.04 L530.96 772.43 L532 770.81 L533.05 769.17 L534.1 767.52 L535.14 765.85 L536.19 764.18 L537.24 762.5 L538.28 760.81 L539.33 759.12 L540.38 757.42 L541.42 755.72 L542.47 754.01 L543.52 752.3 L544.56 750.59 L545.61 748.89 L546.66 747.18 L547.7 745.48 L548.75 743.78 L549.8 742.09 L550.84 740.4 L551.89 738.73 L552.94 737.06 L553.98 735.4 L555.03 733.75 L556.08 732.12 L557.12 730.5 L558.17 728.89 L559.22 727.3 L560.26 725.73 L561.31 724.18 L562.36 722.64 L563.4 721.13 L564.45 719.64 L565.5 718.17 L566.54 716.73 L567.59 715.31 L568.64 713.92 L569.68 712.55 L570.73 711.22 L571.78 709.91 L572.82 708.64 L573.87 707.4 L574.92 706.19 L575.96 705.02 L577.01 703.89 L578.06 702.79 L579.1 701.73 L580.15 700.71 L581.2 699.73 L582.24 698.79 L583.29 697.89 L584.34 697.03 L585.38 696.2 L586.43 695.42 L587.48 694.67 L588.52 693.96 L589.57 693.28 L590.62 692.63 L591.66 692.02 L592.71 691.44 L593.75 690.89 L594.8 690.37 L595.85 689.88 L596.89 689.42 L597.94 688.99 L598.99 688.58 L600.03 688.2 L601.08 687.85 L602.13 687.52 L603.17 687.21 L604.22 686.93 L605.27 686.67 L606.31 686.43 L607.36 686.21 L608.41 686.01 L609.45 685.83 L610.5 685.67 L611.55 685.52 L612.59 685.39 L613.64 685.28 L614.69 685.18 L615.73 685.09 L616.78 685.02 L617.83 684.96 L618.87 684.91 L619.92 684.87 L620.97 684.84 L622.01 684.82 L623.06 684.81 L624.11 684.81 L625.15 684.81 L626.2 684.82" fill="none" stroke="#000" stroke-width="3.7" stroke-linejoin="round"/>
<rect x="215" y="687.3" width="128" height="53.5" fill="#fff" />
<text x="237" y="704" font-size="18.5">T<tspan font-size="10.27" dy="7.4">amb</tspan><tspan dy="-7.4">=25°C</tspan></text>
<text x="221" y="733.6" font-size="18.5" text-anchor="start" font-weight="normal" fill="#000" >MRP 2oz FR4</text>
<rect x="208.6" y="682.45" width="417.3" height="295.2" fill="none" stroke="#000" stroke-width="2.6" stroke-linejoin="bevel"/>
<text x="200.8" y="982.55" font-size="19.4" text-anchor="end" font-weight="normal" fill="#000" >0</text>
<text x="200.8" y="940.38" font-size="19.4" text-anchor="end" font-weight="normal" fill="#000" >20</text>
<text x="200.8" y="898.21" font-size="19.4" text-anchor="end" font-weight="normal" fill="#000" >40</text>
<text x="200.8" y="856.04" font-size="19.4" text-anchor="end" font-weight="normal" fill="#000" >60</text>
<text x="200.8" y="813.86" font-size="19.4" text-anchor="end" font-weight="normal" fill="#000" >80</text>
<text x="200.8" y="771.69" font-size="19.4" text-anchor="end" font-weight="normal" fill="#000" >100</text>
<text x="200.8" y="729.52" font-size="19.4" text-anchor="end" font-weight="normal" fill="#000" >120</text>
<text x="200.8" y="687.35" font-size="19.4" text-anchor="end" font-weight="normal" fill="#000" >140</text>
<text x="208.6" y="999.5" font-size="19.4" text-anchor="middle" font-weight="normal" fill="#000" >100µ</text>
<text x="268.2" y="999.5" font-size="19.4" text-anchor="middle" font-weight="normal" fill="#000" >1m</text>
<text x="327.8" y="999.5" font-size="19.4" text-anchor="middle" font-weight="normal" fill="#000" >10m</text>
<text x="387.4" y="999.5" font-size="19.4" text-anchor="middle" font-weight="normal" fill="#000" >100m</text>
<text x="447" y="999.5" font-size="19.4" text-anchor="middle" font-weight="normal" fill="#000" >1</text>
<text x="506.6" y="999.5" font-size="19.4" text-anchor="middle" font-weight="normal" fill="#000" >10</text>
<text x="566.2" y="999.5" font-size="19.4" text-anchor="middle" font-weight="normal" fill="#000" >100</text>
<text x="625.8" y="999.5" font-size="19.4" text-anchor="middle" font-weight="normal" fill="#000" >1k</text>
<text transform="translate(146 842.5) rotate(-90)" font-size="25.8" text-anchor="middle">Thermal Resistance (°C/W)</text>
<text x="420.25" y="1028.5" font-size="25.8" text-anchor="middle" font-weight="normal" fill="#000" >Pulse Width (s)</text>
<text x="414" y="1057.5" font-size="24.65" text-anchor="middle" font-weight="bold" fill="#000" >Fig 2. Transient Thermal Impedance</text>
<rect x="742.6" y="682.45" width="417.3" height="295.2" fill="#fff" />
<path d="M760.54 682.45V977.65M771.04 682.45V977.65M778.48 682.45V977.65M784.26 682.45V977.65M788.98 682.45V977.65M792.97 682.45V977.65M796.42 682.45V977.65M799.47 682.45V977.65M820.14 682.45V977.65M830.64 682.45V977.65M838.08 682.45V977.65M843.86 682.45V977.65M848.58 682.45V977.65M852.57 682.45V977.65M856.02 682.45V977.65M859.07 682.45V977.65M879.74 682.45V977.65M890.24 682.45V977.65M897.68 682.45V977.65M903.46 682.45V977.65M908.18 682.45V977.65M912.17 682.45V977.65M915.62 682.45V977.65M918.67 682.45V977.65M939.34 682.45V977.65M949.84 682.45V977.65M957.28 682.45V977.65M963.06 682.45V977.65M967.78 682.45V977.65M971.77 682.45V977.65M975.22 682.45V977.65M978.27 682.45V977.65M998.94 682.45V977.65M1009.44 682.45V977.65M1016.88 682.45V977.65M1022.66 682.45V977.65M1027.38 682.45V977.65M1031.37 682.45V977.65M1034.82 682.45V977.65M1037.87 682.45V977.65M1058.54 682.45V977.65M1069.04 682.45V977.65M1076.48 682.45V977.65M1082.26 682.45V977.65M1086.98 682.45V977.65M1090.97 682.45V977.65M1094.42 682.45V977.65M1097.47 682.45V977.65M1118.14 682.45V977.65M1128.64 682.45V977.65M1136.08 682.45V977.65M1141.86 682.45V977.65M1146.58 682.45V977.65M1150.57 682.45V977.65M1154.02 682.45V977.65M1157.07 682.45V977.65" stroke="#c9c9c9" stroke-width="1.5" fill="none"/>
<path d="" stroke="#c9c9c9" stroke-width="1.5" fill="none"/>
<path d="M802.2 682.45V977.65M861.8 682.45V977.65M921.4 682.45V977.65M981 682.45V977.65M1040.6 682.45V977.65M1100.2 682.45V977.65" stroke="#8a8a8a" stroke-width="1.5" fill="none"/>
<path d="M742.6 956.56H1159.9M742.6 935.48H1159.9M742.6 914.39H1159.9M742.6 893.31H1159.9M742.6 872.22H1159.9M742.6 851.14H1159.9M742.6 830.05H1159.9M742.6 808.96H1159.9M742.6 787.88H1159.9M742.6 766.79H1159.9M742.6 745.71H1159.9M742.6 724.62H1159.9M742.6 703.54H1159.9" stroke="#8a8a8a" stroke-width="1.5" fill="none"/>
<line x1="1028" y1="863" x2="1046" y2="877" stroke="#000" stroke-width="1.2" />
<line x1="973" y1="883" x2="1008" y2="911" stroke="#000" stroke-width="1.2" />
<line x1="911" y1="905" x2="957" y2="945" stroke="#000" stroke-width="1.2" />
<rect x="1045" y="872" width="109" height="22" fill="#fff" />
<text x="1048.6" y="887" font-size="18.5" text-anchor="start" font-weight="normal" fill="#000" >Single Pulse</text>
<rect x="1007" y="898" width="66" height="24" fill="#fff" />
<text x="1011.6" y="916" font-size="18.5" text-anchor="start" font-weight="normal" fill="#000" >D=0.05</text>
<rect x="955" y="932" width="58" height="24" fill="#fff" />
<text x="961.4" y="950.4" font-size="18.5" text-anchor="start" font-weight="normal" fill="#000" >D=0.1</text>
<rect x="745" y="808" width="64" height="22" fill="#fff" />
<text x="753.4" y="822.4" font-size="18.5" text-anchor="start" font-weight="normal" fill="#000" >D=0.5</text>
<rect x="745" y="882" width="64" height="24" fill="#fff" />
<text x="754.4" y="898" font-size="18.5" text-anchor="start" font-weight="normal" fill="#000" >D=0.2</text>
<path d="M742.7 843.81 L743.75 843.74 L744.79 843.67 L745.84 843.6 L746.89 843.53 L747.93 843.45 L748.98 843.37 L750.02 843.3 L751.07 843.21 L752.12 843.13 L753.16 843.05 L754.21 842.96 L755.26 842.88 L756.3 842.79 L757.35 842.7 L758.4 842.61 L759.44 842.51 L760.49 842.42 L761.53 842.32 L762.58 842.22 L763.63 842.12 L764.67 842.02 L765.72 841.92 L766.77 841.81 L767.81 841.71 L768.86 841.6 L769.91 841.49 L770.95 841.38 L772 841.27 L773.04 841.16 L774.09 841.04 L775.14 840.93 L776.18 840.81 L777.23 840.69 L778.28 840.57 L779.32 840.45 L780.37 840.32 L781.42 840.2 L782.46 840.07 L783.51 839.95 L784.55 839.82 L785.6 839.69 L786.65 839.56 L787.69 839.42 L788.74 839.29 L789.79 839.15 L790.83 839.02 L791.88 838.88 L792.93 838.74 L793.97 838.6 L795.02 838.46 L796.06 838.32 L797.11 838.17 L798.16 838.03 L799.2 837.88 L800.25 837.73 L801.3 837.59 L802.34 837.44 L803.39 837.29 L804.44 837.13 L805.48 836.98 L806.53 836.83 L807.57 836.67 L808.62 836.51 L809.67 836.36 L810.71 836.2 L811.76 836.04 L812.81 835.88 L813.85 835.72 L814.9 835.55 L815.95 835.39 L816.99 835.22 L818.04 835.06 L819.08 834.89 L820.13 834.72 L821.18 834.56 L822.22 834.39 L823.27 834.21 L824.32 834.04 L825.36 833.87 L826.41 833.7 L827.46 833.52 L828.5 833.35 L829.55 833.17 L830.59 833 L831.64 832.82 L832.69 832.64 L833.73 832.46 L834.78 832.28 L835.83 832.1 L836.87 831.92 L837.92 831.73 L838.97 831.55 L840.01 831.37 L841.06 831.18 L842.1 831 L843.15 830.81 L844.2 830.62 L845.24 830.44 L846.29 830.25 L847.34 830.06 L848.38 829.87 L849.43 829.68 L850.48 829.49 L851.52 829.29 L852.57 829.1 L853.61 828.91 L854.66 828.72 L855.71 828.52 L856.75 828.33 L857.8 828.13 L858.85 827.93 L859.89 827.74 L860.94 827.54 L861.99 827.34 L863.03 827.15 L864.08 826.95 L865.12 826.75 L866.17 826.55 L867.22 826.35 L868.26 826.14 L869.31 825.94 L870.36 825.74 L871.4 825.54 L872.45 825.33 L873.5 825.12 L874.54 824.92 L875.59 824.71 L876.63 824.5 L877.68 824.29 L878.73 824.08 L879.77 823.87 L880.82 823.65 L881.87 823.44 L882.91 823.22 L883.96 823 L885.01 822.78 L886.05 822.56 L887.1 822.34 L888.14 822.11 L889.19 821.89 L890.24 821.66 L891.28 821.43 L892.33 821.2 L893.38 820.97 L894.42 820.73 L895.47 820.5 L896.52 820.26 L897.56 820.02 L898.61 819.78 L899.65 819.53 L900.7 819.29 L901.75 819.04 L902.79 818.79 L903.84 818.54 L904.89 818.28 L905.93 818.02 L906.98 817.77 L908.03 817.51 L909.07 817.24 L910.12 816.98 L911.16 816.71 L912.21 816.44 L913.26 816.17 L914.3 815.9 L915.35 815.63 L916.4 815.36 L917.44 815.08 L918.49 814.8 L919.54 814.52 L920.58 814.24 L921.63 813.96 L922.67 813.67 L923.72 813.39 L924.77 813.1 L925.81 812.81 L926.86 812.52 L927.91 812.23 L928.95 811.93 L930 811.64 L931.05 811.34 L932.09 811.05 L933.14 810.75 L934.18 810.45 L935.23 810.15 L936.28 809.84 L937.32 809.54 L938.37 809.24 L939.42 808.93 L940.46 808.62 L941.51 808.32 L942.56 808.01 L943.6 807.7 L944.65 807.39 L945.69 807.08 L946.74 806.77 L947.79 806.46 L948.83 806.15 L949.88 805.84 L950.93 805.53 L951.97 805.23 L953.02 804.92 L954.07 804.61 L955.11 804.3 L956.16 804 L957.21 803.69 L958.25 803.39 L959.3 803.09 L960.34 802.79 L961.39 802.49 L962.44 802.19 L963.48 801.89 L964.53 801.6 L965.58 801.3 L966.62 801.01 L967.67 800.73 L968.72 800.44 L969.76 800.16 L970.81 799.88 L971.85 799.6 L972.9 799.32 L973.95 799.05 L974.99 798.78 L976.04 798.52 L977.09 798.25 L978.13 797.99 L979.18 797.74 L980.23 797.49 L981.27 797.24 L982.32 796.99 L983.36 796.75 L984.41 796.52 L985.46 796.28 L986.5 796.05 L987.55 795.82 L988.6 795.6 L989.64 795.37 L990.69 795.15 L991.74 794.94 L992.78 794.72 L993.83 794.5 L994.87 794.29 L995.92 794.08 L996.97 793.87 L998.01 793.66 L999.06 793.45 L1000.11 793.25 L1001.15 793.04 L1002.2 792.83 L1003.25 792.63 L1004.29 792.42 L1005.34 792.21 L1006.38 792.01 L1007.43 791.8 L1008.48 791.59 L1009.52 791.38 L1010.57 791.17 L1011.62 790.96 L1012.66 790.74 L1013.71 790.53 L1014.76 790.31 L1015.8 790.09 L1016.85 789.87 L1017.89 789.65 L1018.94 789.43 L1019.99 789.2 L1021.03 788.97 L1022.08 788.73 L1023.13 788.49 L1024.17 788.25 L1025.22 788.01 L1026.27 787.76 L1027.31 787.51 L1028.36 787.25 L1029.4 786.98 L1030.45 786.71 L1031.5 786.44 L1032.54 786.15 L1033.59 785.86 L1034.64 785.56 L1035.68 785.25 L1036.73 784.93 L1037.78 784.6 L1038.82 784.26 L1039.87 783.91 L1040.91 783.55 L1041.96 783.17 L1043.01 782.78 L1044.05 782.38 L1045.1 781.96 L1046.15 781.52 L1047.19 781.07 L1048.24 780.61 L1049.29 780.12 L1050.33 779.62 L1051.38 779.1 L1052.42 778.57 L1053.47 778.01 L1054.52 777.43 L1055.56 776.83 L1056.61 776.21 L1057.66 775.57 L1058.7 774.91 L1059.75 774.22 L1060.8 773.51 L1061.84 772.78 L1062.89 772.02 L1063.93 771.24 L1064.98 770.44 L1066.03 769.62 L1067.07 768.79 L1068.12 767.93 L1069.17 767.06 L1070.21 766.16 L1071.26 765.26 L1072.31 764.33 L1073.35 763.4 L1074.4 762.45 L1075.44 761.48 L1076.49 760.5 L1077.54 759.52 L1078.58 758.52 L1079.63 757.51 L1080.68 756.49 L1081.72 755.47 L1082.77 754.43 L1083.82 753.39 L1084.86 752.35 L1085.91 751.3 L1086.95 750.24 L1088 749.19 L1089.05 748.13 L1090.09 747.07 L1091.14 746.01 L1092.19 744.95 L1093.23 743.9 L1094.28 742.85 L1095.33 741.81 L1096.37 740.77 L1097.42 739.73 L1098.46 738.71 L1099.51 737.69 L1100.56 736.69 L1101.6 735.7 L1102.65 734.71 L1103.7 733.74 L1104.74 732.79 L1105.79 731.85 L1106.84 730.93 L1107.88 730.02 L1108.93 729.14 L1109.97 728.27 L1111.02 727.42 L1112.07 726.6 L1113.11 725.79 L1114.16 725.01 L1115.21 724.26 L1116.25 723.53 L1117.3 722.83 L1118.35 722.16 L1119.39 721.51 L1120.44 720.9 L1121.48 720.31 L1122.53 719.76 L1123.58 719.23 L1124.62 718.74 L1125.67 718.27 L1126.72 717.83 L1127.76 717.42 L1128.81 717.03 L1129.86 716.66 L1130.9 716.32 L1131.95 716 L1132.99 715.71 L1134.04 715.43 L1135.09 715.18 L1136.13 714.95 L1137.18 714.73 L1138.23 714.54 L1139.27 714.36 L1140.32 714.2 L1141.37 714.05 L1142.41 713.92 L1143.46 713.8 L1144.5 713.7 L1145.55 713.61 L1146.6 713.53 L1147.64 713.46 L1148.69 713.41 L1149.74 713.36 L1150.78 713.32 L1151.83 713.29 L1152.88 713.27 L1153.92 713.25 L1154.97 713.24 L1156.01 713.23 L1157.06 713.23 L1158.11 713.23 L1159.15 713.24 L1160.2 713.25" fill="none" stroke="#000" stroke-width="3.7" stroke-linejoin="round"/>
<path d="M742.7 922.15 L743.75 922.05 L744.79 921.93 L745.84 921.82 L746.89 921.7 L747.93 921.58 L748.98 921.46 L750.02 921.33 L751.07 921.2 L752.12 921.07 L753.16 920.94 L754.21 920.8 L755.26 920.66 L756.3 920.52 L757.35 920.38 L758.4 920.23 L759.44 920.08 L760.49 919.93 L761.53 919.77 L762.58 919.62 L763.63 919.46 L764.67 919.29 L765.72 919.13 L766.77 918.96 L767.81 918.79 L768.86 918.62 L769.91 918.45 L770.95 918.27 L772 918.09 L773.04 917.91 L774.09 917.73 L775.14 917.54 L776.18 917.35 L777.23 917.16 L778.28 916.97 L779.32 916.77 L780.37 916.58 L781.42 916.38 L782.46 916.18 L783.51 915.97 L784.55 915.77 L785.6 915.56 L786.65 915.35 L787.69 915.14 L788.74 914.92 L789.79 914.71 L790.83 914.49 L791.88 914.27 L792.93 914.05 L793.97 913.82 L795.02 913.59 L796.06 913.37 L797.11 913.14 L798.16 912.9 L799.2 912.67 L800.25 912.43 L801.3 912.2 L802.34 911.96 L803.39 911.72 L804.44 911.47 L805.48 911.23 L806.53 910.98 L807.57 910.73 L808.62 910.48 L809.67 910.23 L810.71 909.98 L811.76 909.72 L812.81 909.46 L813.85 909.2 L814.9 908.94 L815.95 908.68 L816.99 908.42 L818.04 908.15 L819.08 907.89 L820.13 907.62 L821.18 907.35 L822.22 907.08 L823.27 906.8 L824.32 906.53 L825.36 906.25 L826.41 905.98 L827.46 905.7 L828.5 905.42 L829.55 905.13 L830.59 904.85 L831.64 904.57 L832.69 904.28 L833.73 903.99 L834.78 903.71 L835.83 903.42 L836.87 903.13 L837.92 902.83 L838.97 902.54 L840.01 902.25 L841.06 901.95 L842.1 901.65 L843.15 901.36 L844.2 901.06 L845.24 900.76 L846.29 900.45 L847.34 900.15 L848.38 899.85 L849.43 899.54 L850.48 899.24 L851.52 898.93 L852.57 898.62 L853.61 898.31 L854.66 898 L855.71 897.69 L856.75 897.38 L857.8 897.07 L858.85 896.75 L859.89 896.44 L860.94 896.12 L861.99 895.81 L863.03 895.49 L864.08 895.17 L865.12 894.85 L866.17 894.53 L867.22 894.21 L868.26 893.89 L869.31 893.57 L870.36 893.24 L871.4 892.92 L872.45 892.59 L873.5 892.26 L874.54 891.93 L875.59 891.59 L876.63 891.26 L877.68 890.92 L878.73 890.58 L879.77 890.24 L880.82 889.9 L881.87 889.56 L882.91 889.21 L883.96 888.86 L885.01 888.51 L886.05 888.16 L887.1 887.8 L888.14 887.44 L889.19 887.08 L890.24 886.72 L891.28 886.35 L892.33 885.98 L893.38 885.61 L894.42 885.23 L895.47 884.86 L896.52 884.47 L897.56 884.09 L898.61 883.7 L899.65 883.31 L900.7 882.92 L901.75 882.52 L902.79 882.12 L903.84 881.72 L904.89 881.31 L905.93 880.9 L906.98 880.48 L908.03 880.07 L909.07 879.65 L910.12 879.22 L911.16 878.8 L912.21 878.37 L913.26 877.94 L914.3 877.5 L915.35 877.07 L916.4 876.63 L917.44 876.19 L918.49 875.74 L919.54 875.29 L920.58 874.84 L921.63 874.39 L922.67 873.93 L923.72 873.48 L924.77 873.02 L925.81 872.55 L926.86 872.09 L927.91 871.62 L928.95 871.15 L930 870.68 L931.05 870.21 L932.09 869.73 L933.14 869.25 L934.18 868.77 L935.23 868.29 L936.28 867.81 L937.32 867.32 L938.37 866.84 L939.42 866.35 L940.46 865.86 L941.51 865.36 L942.56 864.87 L943.6 864.38 L944.65 863.88 L945.69 863.39 L946.74 862.89 L947.79 862.4 L948.83 861.9 L949.88 861.41 L950.93 860.91 L951.97 860.42 L953.02 859.93 L954.07 859.43 L955.11 858.94 L956.16 858.45 L957.21 857.97 L958.25 857.48 L959.3 857 L960.34 856.52 L961.39 856.04 L962.44 855.56 L963.48 855.09 L964.53 854.61 L965.58 854.15 L966.62 853.68 L967.67 853.22 L968.72 852.76 L969.76 852.31 L970.81 851.86 L971.85 851.42 L972.9 850.98 L973.95 850.54 L974.99 850.11 L976.04 849.68 L977.09 849.26 L978.13 848.85 L979.18 848.44 L980.23 848.04 L981.27 847.64 L982.32 847.25 L983.36 846.86 L984.41 846.48 L985.46 846.11 L986.5 845.74 L987.55 845.38 L988.6 845.01 L989.64 844.66 L990.69 844.31 L991.74 843.96 L992.78 843.61 L993.83 843.27 L994.87 842.93 L995.92 842.59 L996.97 842.25 L998.01 841.92 L999.06 841.58 L1000.11 841.25 L1001.15 840.92 L1002.2 840.59 L1003.25 840.26 L1004.29 839.93 L1005.34 839.6 L1006.38 839.27 L1007.43 838.93 L1008.48 838.6 L1009.52 838.27 L1010.57 837.93 L1011.62 837.59 L1012.66 837.25 L1013.71 836.91 L1014.76 836.56 L1015.8 836.21 L1016.85 835.86 L1017.89 835.5 L1018.94 835.14 L1019.99 834.77 L1021.03 834.4 L1022.08 834.03 L1023.13 833.65 L1024.17 833.26 L1025.22 832.87 L1026.27 832.47 L1027.31 832.07 L1028.36 831.66 L1029.4 831.23 L1030.45 830.8 L1031.5 830.36 L1032.54 829.91 L1033.59 829.44 L1034.64 828.96 L1035.68 828.46 L1036.73 827.95 L1037.78 827.43 L1038.82 826.88 L1039.87 826.32 L1040.91 825.74 L1041.96 825.13 L1043.01 824.51 L1044.05 823.86 L1045.1 823.19 L1046.15 822.5 L1047.19 821.78 L1048.24 821.03 L1049.29 820.26 L1050.33 819.45 L1051.38 818.62 L1052.42 817.76 L1053.47 816.87 L1054.52 815.95 L1055.56 814.99 L1056.61 814 L1057.66 812.97 L1058.7 811.91 L1059.75 810.81 L1060.8 809.67 L1061.84 808.5 L1062.89 807.29 L1063.93 806.05 L1064.98 804.77 L1066.03 803.46 L1067.07 802.12 L1068.12 800.75 L1069.17 799.35 L1070.21 797.92 L1071.26 796.47 L1072.31 794.99 L1073.35 793.49 L1074.4 791.97 L1075.44 790.43 L1076.49 788.87 L1077.54 787.29 L1078.58 785.69 L1079.63 784.07 L1080.68 782.45 L1081.72 780.8 L1082.77 779.15 L1083.82 777.49 L1084.86 775.81 L1085.91 774.13 L1086.95 772.45 L1088 770.76 L1089.05 769.06 L1090.09 767.37 L1091.14 765.68 L1092.19 763.99 L1093.23 762.3 L1094.28 760.62 L1095.33 758.95 L1096.37 757.29 L1097.42 755.63 L1098.46 753.99 L1099.51 752.37 L1100.56 750.76 L1101.6 749.17 L1102.65 747.6 L1103.7 746.05 L1104.74 744.52 L1105.79 743.02 L1106.84 741.54 L1107.88 740.09 L1108.93 738.68 L1109.97 737.29 L1111.02 735.93 L1112.07 734.61 L1113.11 733.33 L1114.16 732.08 L1115.21 730.87 L1116.25 729.71 L1117.3 728.59 L1118.35 727.51 L1119.39 726.48 L1120.44 725.49 L1121.48 724.56 L1122.53 723.67 L1123.58 722.83 L1124.62 722.04 L1125.67 721.29 L1126.72 720.59 L1127.76 719.92 L1128.81 719.3 L1129.86 718.72 L1130.9 718.17 L1131.95 717.66 L1132.99 717.19 L1134.04 716.75 L1135.09 716.35 L1136.13 715.97 L1137.18 715.63 L1138.23 715.32 L1139.27 715.03 L1140.32 714.77 L1141.37 714.54 L1142.41 714.33 L1143.46 714.14 L1144.5 713.98 L1145.55 713.83 L1146.6 713.71 L1147.64 713.6 L1148.69 713.51 L1149.74 713.43 L1150.78 713.37 L1151.83 713.32 L1152.88 713.29 L1153.92 713.26 L1154.97 713.24 L1156.01 713.23 L1157.06 713.23 L1158.11 713.23 L1159.15 713.24 L1160.2 713.26" fill="none" stroke="#000" stroke-width="3.7" stroke-linejoin="round"/>
<path d="M742.7 948.27 L743.75 948.15 L744.79 948.02 L745.84 947.89 L746.89 947.76 L747.93 947.62 L748.98 947.48 L750.02 947.34 L751.07 947.2 L752.12 947.05 L753.16 946.9 L754.21 946.75 L755.26 946.59 L756.3 946.43 L757.35 946.27 L758.4 946.1 L759.44 945.93 L760.49 945.76 L761.53 945.59 L762.58 945.41 L763.63 945.23 L764.67 945.05 L765.72 944.87 L766.77 944.68 L767.81 944.49 L768.86 944.29 L769.91 944.1 L770.95 943.9 L772 943.7 L773.04 943.49 L774.09 943.29 L775.14 943.08 L776.18 942.87 L777.23 942.65 L778.28 942.44 L779.32 942.22 L780.37 941.99 L781.42 941.77 L782.46 941.54 L783.51 941.31 L784.55 941.08 L785.6 940.85 L786.65 940.61 L787.69 940.37 L788.74 940.13 L789.79 939.89 L790.83 939.64 L791.88 939.4 L792.93 939.15 L793.97 938.89 L795.02 938.64 L796.06 938.38 L797.11 938.12 L798.16 937.86 L799.2 937.6 L800.25 937.33 L801.3 937.07 L802.34 936.8 L803.39 936.53 L804.44 936.25 L805.48 935.98 L806.53 935.7 L807.57 935.42 L808.62 935.14 L809.67 934.85 L810.71 934.57 L811.76 934.28 L812.81 933.99 L813.85 933.7 L814.9 933.41 L815.95 933.11 L816.99 932.82 L818.04 932.52 L819.08 932.22 L820.13 931.91 L821.18 931.61 L822.22 931.31 L823.27 931 L824.32 930.69 L825.36 930.38 L826.41 930.07 L827.46 929.75 L828.5 929.44 L829.55 929.12 L830.59 928.8 L831.64 928.48 L832.69 928.16 L833.73 927.84 L834.78 927.52 L835.83 927.19 L836.87 926.86 L837.92 926.53 L838.97 926.2 L840.01 925.87 L841.06 925.54 L842.1 925.21 L843.15 924.87 L844.2 924.53 L845.24 924.2 L846.29 923.86 L847.34 923.52 L848.38 923.17 L849.43 922.83 L850.48 922.49 L851.52 922.14 L852.57 921.8 L853.61 921.45 L854.66 921.1 L855.71 920.75 L856.75 920.4 L857.8 920.05 L858.85 919.69 L859.89 919.34 L860.94 918.99 L861.99 918.63 L863.03 918.27 L864.08 917.92 L865.12 917.56 L866.17 917.2 L867.22 916.83 L868.26 916.47 L869.31 916.11 L870.36 915.74 L871.4 915.38 L872.45 915.01 L873.5 914.64 L874.54 914.26 L875.59 913.89 L876.63 913.51 L877.68 913.13 L878.73 912.75 L879.77 912.37 L880.82 911.98 L881.87 911.6 L882.91 911.21 L883.96 910.81 L885.01 910.42 L886.05 910.02 L887.1 909.62 L888.14 909.22 L889.19 908.81 L890.24 908.4 L891.28 907.99 L892.33 907.57 L893.38 907.16 L894.42 906.73 L895.47 906.31 L896.52 905.88 L897.56 905.45 L898.61 905.01 L899.65 904.57 L900.7 904.13 L901.75 903.68 L902.79 903.23 L903.84 902.78 L904.89 902.32 L905.93 901.86 L906.98 901.39 L908.03 900.92 L909.07 900.45 L910.12 899.97 L911.16 899.49 L912.21 899.01 L913.26 898.53 L914.3 898.04 L915.35 897.55 L916.4 897.05 L917.44 896.55 L918.49 896.05 L919.54 895.55 L920.58 895.04 L921.63 894.53 L922.67 894.02 L923.72 893.51 L924.77 892.99 L925.81 892.47 L926.86 891.94 L927.91 891.42 L928.95 890.89 L930 890.36 L931.05 889.83 L932.09 889.29 L933.14 888.76 L934.18 888.22 L935.23 887.67 L936.28 887.13 L937.32 886.58 L938.37 886.04 L939.42 885.49 L940.46 884.93 L941.51 884.38 L942.56 883.83 L943.6 883.27 L944.65 882.71 L945.69 882.16 L946.74 881.6 L947.79 881.04 L948.83 880.49 L949.88 879.93 L950.93 879.37 L951.97 878.82 L953.02 878.26 L954.07 877.71 L955.11 877.16 L956.16 876.61 L957.21 876.06 L958.25 875.51 L959.3 874.97 L960.34 874.43 L961.39 873.89 L962.44 873.35 L963.48 872.82 L964.53 872.29 L965.58 871.76 L966.62 871.24 L967.67 870.72 L968.72 870.21 L969.76 869.7 L970.81 869.19 L971.85 868.69 L972.9 868.19 L973.95 867.7 L974.99 867.22 L976.04 866.74 L977.09 866.27 L978.13 865.8 L979.18 865.34 L980.23 864.89 L981.27 864.44 L982.32 864 L983.36 863.57 L984.41 863.14 L985.46 862.72 L986.5 862.3 L987.55 861.89 L988.6 861.49 L989.64 861.09 L990.69 860.69 L991.74 860.3 L992.78 859.91 L993.83 859.52 L994.87 859.14 L995.92 858.76 L996.97 858.38 L998.01 858 L999.06 857.63 L1000.11 857.25 L1001.15 856.88 L1002.2 856.51 L1003.25 856.14 L1004.29 855.77 L1005.34 855.39 L1006.38 855.02 L1007.43 854.65 L1008.48 854.27 L1009.52 853.9 L1010.57 853.52 L1011.62 853.14 L1012.66 852.75 L1013.71 852.37 L1014.76 851.98 L1015.8 851.58 L1016.85 851.19 L1017.89 850.78 L1018.94 850.38 L1019.99 849.97 L1021.03 849.55 L1022.08 849.13 L1023.13 848.7 L1024.17 848.27 L1025.22 847.83 L1026.27 847.38 L1027.31 846.92 L1028.36 846.46 L1029.4 845.98 L1030.45 845.5 L1031.5 845 L1032.54 844.49 L1033.59 843.97 L1034.64 843.42 L1035.68 842.87 L1036.73 842.29 L1037.78 841.7 L1038.82 841.09 L1039.87 840.45 L1040.91 839.8 L1041.96 839.12 L1043.01 838.42 L1044.05 837.69 L1045.1 836.94 L1046.15 836.15 L1047.19 835.34 L1048.24 834.5 L1049.29 833.63 L1050.33 832.73 L1051.38 831.8 L1052.42 830.83 L1053.47 829.83 L1054.52 828.79 L1055.56 827.71 L1056.61 826.59 L1057.66 825.44 L1058.7 824.24 L1059.75 823.01 L1060.8 821.73 L1061.84 820.41 L1062.89 819.05 L1063.93 817.65 L1064.98 816.21 L1066.03 814.74 L1067.07 813.23 L1068.12 811.69 L1069.17 810.11 L1070.21 808.51 L1071.26 806.87 L1072.31 805.21 L1073.35 803.53 L1074.4 801.81 L1075.44 800.08 L1076.49 798.32 L1077.54 796.54 L1078.58 794.74 L1079.63 792.93 L1080.68 791.1 L1081.72 789.25 L1082.77 787.39 L1083.82 785.52 L1084.86 783.64 L1085.91 781.74 L1086.95 779.85 L1088 777.95 L1089.05 776.04 L1090.09 774.14 L1091.14 772.23 L1092.19 770.33 L1093.23 768.43 L1094.28 766.54 L1095.33 764.66 L1096.37 762.79 L1097.42 760.93 L1098.46 759.09 L1099.51 757.26 L1100.56 755.45 L1101.6 753.66 L1102.65 751.9 L1103.7 750.15 L1104.74 748.43 L1105.79 746.74 L1106.84 745.08 L1107.88 743.45 L1108.93 741.86 L1109.97 740.29 L1111.02 738.77 L1112.07 737.28 L1113.11 735.84 L1114.16 734.44 L1115.21 733.08 L1116.25 731.77 L1117.3 730.51 L1118.35 729.29 L1119.39 728.13 L1120.44 727.03 L1121.48 725.98 L1122.53 724.98 L1123.58 724.03 L1124.62 723.14 L1125.67 722.3 L1126.72 721.51 L1127.76 720.76 L1128.81 720.06 L1129.86 719.4 L1130.9 718.79 L1131.95 718.22 L1132.99 717.68 L1134.04 717.19 L1135.09 716.74 L1136.13 716.32 L1137.18 715.93 L1138.23 715.58 L1139.27 715.25 L1140.32 714.96 L1141.37 714.7 L1142.41 714.47 L1143.46 714.26 L1144.5 714.07 L1145.55 713.91 L1146.6 713.77 L1147.64 713.65 L1148.69 713.54 L1149.74 713.46 L1150.78 713.39 L1151.83 713.33 L1152.88 713.29 L1153.92 713.26 L1154.97 713.24 L1156.01 713.23 L1157.06 713.23 L1158.11 713.23 L1159.15 713.24 L1160.2 713.26" fill="none" stroke="#000" stroke-width="3.7" stroke-linejoin="round"/>
<path d="M742.7 961.33 L743.75 961.2 L744.79 961.06 L745.84 960.93 L746.89 960.79 L747.93 960.64 L748.98 960.5 L750.02 960.35 L751.07 960.2 L752.12 960.04 L753.16 959.88 L754.21 959.72 L755.26 959.55 L756.3 959.39 L757.35 959.21 L758.4 959.04 L759.44 958.86 L760.49 958.68 L761.53 958.5 L762.58 958.31 L763.63 958.12 L764.67 957.93 L765.72 957.73 L766.77 957.54 L767.81 957.33 L768.86 957.13 L769.91 956.92 L770.95 956.71 L772 956.5 L773.04 956.29 L774.09 956.07 L775.14 955.85 L776.18 955.62 L777.23 955.4 L778.28 955.17 L779.32 954.94 L780.37 954.7 L781.42 954.47 L782.46 954.23 L783.51 953.99 L784.55 953.74 L785.6 953.49 L786.65 953.24 L787.69 952.99 L788.74 952.74 L789.79 952.48 L790.83 952.22 L791.88 951.96 L792.93 951.7 L793.97 951.43 L795.02 951.16 L796.06 950.89 L797.11 950.62 L798.16 950.34 L799.2 950.06 L800.25 949.78 L801.3 949.5 L802.34 949.22 L803.39 948.93 L804.44 948.64 L805.48 948.35 L806.53 948.06 L807.57 947.76 L808.62 947.46 L809.67 947.17 L810.71 946.86 L811.76 946.56 L812.81 946.26 L813.85 945.95 L814.9 945.64 L815.95 945.33 L816.99 945.01 L818.04 944.7 L819.08 944.38 L820.13 944.06 L821.18 943.74 L822.22 943.42 L823.27 943.1 L824.32 942.77 L825.36 942.44 L826.41 942.11 L827.46 941.78 L828.5 941.45 L829.55 941.12 L830.59 940.78 L831.64 940.44 L832.69 940.1 L833.73 939.76 L834.78 939.42 L835.83 939.08 L836.87 938.73 L837.92 938.38 L838.97 938.04 L840.01 937.69 L841.06 937.33 L842.1 936.98 L843.15 936.63 L844.2 936.27 L845.24 935.92 L846.29 935.56 L847.34 935.2 L848.38 934.84 L849.43 934.48 L850.48 934.11 L851.52 933.75 L852.57 933.38 L853.61 933.02 L854.66 932.65 L855.71 932.28 L856.75 931.91 L857.8 931.54 L858.85 931.16 L859.89 930.79 L860.94 930.42 L861.99 930.04 L863.03 929.66 L864.08 929.29 L865.12 928.91 L866.17 928.53 L867.22 928.15 L868.26 927.76 L869.31 927.38 L870.36 926.99 L871.4 926.61 L872.45 926.22 L873.5 925.82 L874.54 925.43 L875.59 925.04 L876.63 924.64 L877.68 924.24 L878.73 923.84 L879.77 923.43 L880.82 923.03 L881.87 922.62 L882.91 922.21 L883.96 921.79 L885.01 921.37 L886.05 920.95 L887.1 920.53 L888.14 920.11 L889.19 919.68 L890.24 919.25 L891.28 918.81 L892.33 918.37 L893.38 917.93 L894.42 917.48 L895.47 917.03 L896.52 916.58 L897.56 916.13 L898.61 915.67 L899.65 915.2 L900.7 914.73 L901.75 914.26 L902.79 913.79 L903.84 913.31 L904.89 912.82 L905.93 912.33 L906.98 911.84 L908.03 911.35 L909.07 910.85 L910.12 910.35 L911.16 909.84 L912.21 909.33 L913.26 908.82 L914.3 908.3 L915.35 907.79 L916.4 907.26 L917.44 906.74 L918.49 906.21 L919.54 905.68 L920.58 905.14 L921.63 904.61 L922.67 904.06 L923.72 903.52 L924.77 902.97 L925.81 902.43 L926.86 901.87 L927.91 901.32 L928.95 900.76 L930 900.2 L931.05 899.64 L932.09 899.07 L933.14 898.51 L934.18 897.94 L935.23 897.37 L936.28 896.79 L937.32 896.21 L938.37 895.64 L939.42 895.06 L940.46 894.47 L941.51 893.89 L942.56 893.3 L943.6 892.72 L944.65 892.13 L945.69 891.54 L946.74 890.95 L947.79 890.37 L948.83 889.78 L949.88 889.19 L950.93 888.6 L951.97 888.02 L953.02 887.43 L954.07 886.85 L955.11 886.26 L956.16 885.68 L957.21 885.1 L958.25 884.53 L959.3 883.95 L960.34 883.38 L961.39 882.81 L962.44 882.25 L963.48 881.68 L964.53 881.12 L965.58 880.57 L966.62 880.02 L967.67 879.47 L968.72 878.93 L969.76 878.39 L970.81 877.85 L971.85 877.33 L972.9 876.8 L973.95 876.29 L974.99 875.77 L976.04 875.27 L977.09 874.77 L978.13 874.28 L979.18 873.79 L980.23 873.31 L981.27 872.84 L982.32 872.38 L983.36 871.92 L984.41 871.47 L985.46 871.02 L986.5 870.59 L987.55 870.15 L988.6 869.72 L989.64 869.3 L990.69 868.88 L991.74 868.47 L992.78 868.06 L993.83 867.65 L994.87 867.24 L995.92 866.84 L996.97 866.44 L998.01 866.04 L999.06 865.65 L1000.11 865.25 L1001.15 864.86 L1002.2 864.47 L1003.25 864.08 L1004.29 863.68 L1005.34 863.29 L1006.38 862.9 L1007.43 862.5 L1008.48 862.11 L1009.52 861.71 L1010.57 861.31 L1011.62 860.91 L1012.66 860.5 L1013.71 860.1 L1014.76 859.68 L1015.8 859.27 L1016.85 858.85 L1017.89 858.43 L1018.94 858 L1019.99 857.56 L1021.03 857.12 L1022.08 856.68 L1023.13 856.23 L1024.17 855.77 L1025.22 855.3 L1026.27 854.83 L1027.31 854.35 L1028.36 853.86 L1029.4 853.36 L1030.45 852.85 L1031.5 852.32 L1032.54 851.78 L1033.59 851.23 L1034.64 850.66 L1035.68 850.07 L1036.73 849.46 L1037.78 848.84 L1038.82 848.19 L1039.87 847.52 L1040.91 846.83 L1041.96 846.11 L1043.01 845.37 L1044.05 844.6 L1045.1 843.81 L1046.15 842.98 L1047.19 842.13 L1048.24 841.24 L1049.29 840.32 L1050.33 839.37 L1051.38 838.38 L1052.42 837.36 L1053.47 836.3 L1054.52 835.21 L1055.56 834.07 L1056.61 832.89 L1057.66 831.67 L1058.7 830.41 L1059.75 829.11 L1060.8 827.76 L1061.84 826.36 L1062.89 824.93 L1063.93 823.45 L1064.98 821.93 L1066.03 820.37 L1067.07 818.78 L1068.12 817.16 L1069.17 815.49 L1070.21 813.8 L1071.26 812.08 L1072.31 810.32 L1073.35 808.54 L1074.4 806.73 L1075.44 804.9 L1076.49 803.05 L1077.54 801.17 L1078.58 799.27 L1079.63 797.36 L1080.68 795.42 L1081.72 793.47 L1082.77 791.51 L1083.82 789.53 L1084.86 787.55 L1085.91 785.55 L1086.95 783.55 L1088 781.54 L1089.05 779.53 L1090.09 777.52 L1091.14 775.51 L1092.19 773.5 L1093.23 771.5 L1094.28 769.5 L1095.33 767.52 L1096.37 765.54 L1097.42 763.58 L1098.46 761.64 L1099.51 759.71 L1100.56 757.8 L1101.6 755.91 L1102.65 754.04 L1103.7 752.2 L1104.74 750.39 L1105.79 748.6 L1106.84 746.85 L1107.88 745.13 L1108.93 743.45 L1109.97 741.8 L1111.02 740.19 L1112.07 738.62 L1113.11 737.1 L1114.16 735.62 L1115.21 734.18 L1116.25 732.8 L1117.3 731.47 L1118.35 730.19 L1119.39 728.96 L1120.44 727.79 L1121.48 726.68 L1122.53 725.63 L1123.58 724.63 L1124.62 723.69 L1125.67 722.8 L1126.72 721.97 L1127.76 721.18 L1128.81 720.44 L1129.86 719.74 L1130.9 719.1 L1131.95 718.49 L1132.99 717.93 L1134.04 717.41 L1135.09 716.93 L1136.13 716.49 L1137.18 716.08 L1138.23 715.71 L1139.27 715.37 L1140.32 715.06 L1141.37 714.78 L1142.41 714.53 L1143.46 714.31 L1144.5 714.12 L1145.55 713.95 L1146.6 713.8 L1147.64 713.67 L1148.69 713.56 L1149.74 713.47 L1150.78 713.4 L1151.83 713.34 L1152.88 713.3 L1153.92 713.26 L1154.97 713.24 L1156.01 713.23 L1157.06 713.23 L1158.11 713.23 L1159.15 713.24 L1160.2 713.26" fill="none" stroke="#000" stroke-width="3.7" stroke-linejoin="round"/>
<path d="M742.7 974.38 L743.75 974.25 L744.79 974.11 L745.84 973.96 L746.89 973.82 L747.93 973.67 L748.98 973.51 L750.02 973.36 L751.07 973.19 L752.12 973.03 L753.16 972.86 L754.21 972.69 L755.26 972.52 L756.3 972.34 L757.35 972.16 L758.4 971.98 L759.44 971.79 L760.49 971.6 L761.53 971.41 L762.58 971.21 L763.63 971.01 L764.67 970.81 L765.72 970.6 L766.77 970.39 L767.81 970.18 L768.86 969.97 L769.91 969.75 L770.95 969.53 L772 969.31 L773.04 969.08 L774.09 968.85 L775.14 968.62 L776.18 968.38 L777.23 968.14 L778.28 967.9 L779.32 967.66 L780.37 967.41 L781.42 967.16 L782.46 966.91 L783.51 966.66 L784.55 966.4 L785.6 966.14 L786.65 965.88 L787.69 965.61 L788.74 965.34 L789.79 965.07 L790.83 964.8 L791.88 964.53 L792.93 964.25 L793.97 963.97 L795.02 963.68 L796.06 963.4 L797.11 963.11 L798.16 962.82 L799.2 962.53 L800.25 962.23 L801.3 961.94 L802.34 961.64 L803.39 961.34 L804.44 961.03 L805.48 960.72 L806.53 960.42 L807.57 960.11 L808.62 959.79 L809.67 959.48 L810.71 959.16 L811.76 958.84 L812.81 958.52 L813.85 958.2 L814.9 957.87 L815.95 957.54 L816.99 957.21 L818.04 956.88 L819.08 956.55 L820.13 956.21 L821.18 955.88 L822.22 955.54 L823.27 955.19 L824.32 954.85 L825.36 954.51 L826.41 954.16 L827.46 953.81 L828.5 953.46 L829.55 953.11 L830.59 952.76 L831.64 952.4 L832.69 952.04 L833.73 951.68 L834.78 951.32 L835.83 950.96 L836.87 950.6 L837.92 950.23 L838.97 949.87 L840.01 949.5 L841.06 949.13 L842.1 948.76 L843.15 948.38 L844.2 948.01 L845.24 947.64 L846.29 947.26 L847.34 946.88 L848.38 946.5 L849.43 946.12 L850.48 945.74 L851.52 945.35 L852.57 944.97 L853.61 944.58 L854.66 944.2 L855.71 943.81 L856.75 943.42 L857.8 943.03 L858.85 942.63 L859.89 942.24 L860.94 941.85 L861.99 941.45 L863.03 941.06 L864.08 940.66 L865.12 940.26 L866.17 939.86 L867.22 939.46 L868.26 939.05 L869.31 938.65 L870.36 938.24 L871.4 937.84 L872.45 937.43 L873.5 937.01 L874.54 936.6 L875.59 936.18 L876.63 935.76 L877.68 935.34 L878.73 934.92 L879.77 934.5 L880.82 934.07 L881.87 933.64 L882.91 933.2 L883.96 932.77 L885.01 932.33 L886.05 931.89 L887.1 931.44 L888.14 930.99 L889.19 930.54 L890.24 930.09 L891.28 929.63 L892.33 929.17 L893.38 928.7 L894.42 928.23 L895.47 927.76 L896.52 927.28 L897.56 926.8 L898.61 926.32 L899.65 925.83 L900.7 925.34 L901.75 924.84 L902.79 924.34 L903.84 923.84 L904.89 923.33 L905.93 922.81 L906.98 922.3 L908.03 921.78 L909.07 921.25 L910.12 920.72 L911.16 920.19 L912.21 919.65 L913.26 919.11 L914.3 918.57 L915.35 918.03 L916.4 917.48 L917.44 916.92 L918.49 916.37 L919.54 915.81 L920.58 915.24 L921.63 914.68 L922.67 914.11 L923.72 913.54 L924.77 912.96 L925.81 912.38 L926.86 911.8 L927.91 911.22 L928.95 910.63 L930 910.04 L931.05 909.45 L932.09 908.86 L933.14 908.26 L934.18 907.66 L935.23 907.06 L936.28 906.45 L937.32 905.85 L938.37 905.24 L939.42 904.62 L940.46 904.01 L941.51 903.4 L942.56 902.78 L943.6 902.16 L944.65 901.55 L945.69 900.93 L946.74 900.31 L947.79 899.69 L948.83 899.07 L949.88 898.45 L950.93 897.83 L951.97 897.22 L953.02 896.6 L954.07 895.98 L955.11 895.37 L956.16 894.76 L957.21 894.15 L958.25 893.54 L959.3 892.94 L960.34 892.34 L961.39 891.74 L962.44 891.14 L963.48 890.55 L964.53 889.96 L965.58 889.37 L966.62 888.79 L967.67 888.22 L968.72 887.65 L969.76 887.08 L970.81 886.52 L971.85 885.96 L972.9 885.41 L973.95 884.87 L974.99 884.33 L976.04 883.8 L977.09 883.27 L978.13 882.75 L979.18 882.24 L980.23 881.74 L981.27 881.24 L982.32 880.75 L983.36 880.27 L984.41 879.8 L985.46 879.33 L986.5 878.87 L987.55 878.41 L988.6 877.96 L989.64 877.51 L990.69 877.07 L991.74 876.64 L992.78 876.2 L993.83 875.77 L994.87 875.35 L995.92 874.93 L996.97 874.51 L998.01 874.09 L999.06 873.67 L1000.11 873.26 L1001.15 872.84 L1002.2 872.43 L1003.25 872.02 L1004.29 871.6 L1005.34 871.19 L1006.38 870.78 L1007.43 870.36 L1008.48 869.94 L1009.52 869.52 L1010.57 869.1 L1011.62 868.68 L1012.66 868.25 L1013.71 867.83 L1014.76 867.39 L1015.8 866.95 L1016.85 866.51 L1017.89 866.07 L1018.94 865.62 L1019.99 865.16 L1021.03 864.7 L1022.08 864.23 L1023.13 863.75 L1024.17 863.27 L1025.22 862.78 L1026.27 862.28 L1027.31 861.78 L1028.36 861.26 L1029.4 860.73 L1030.45 860.19 L1031.5 859.64 L1032.54 859.07 L1033.59 858.49 L1034.64 857.89 L1035.68 857.27 L1036.73 856.63 L1037.78 855.97 L1038.82 855.29 L1039.87 854.59 L1040.91 853.86 L1041.96 853.11 L1043.01 852.33 L1044.05 851.52 L1045.1 850.68 L1046.15 849.81 L1047.19 848.91 L1048.24 847.98 L1049.29 847.01 L1050.33 846.01 L1051.38 844.97 L1052.42 843.89 L1053.47 842.78 L1054.52 841.62 L1055.56 840.43 L1056.61 839.19 L1057.66 837.91 L1058.7 836.58 L1059.75 835.2 L1060.8 833.78 L1061.84 832.32 L1062.89 830.8 L1063.93 829.25 L1064.98 827.65 L1066.03 826.01 L1067.07 824.34 L1068.12 822.62 L1069.17 820.88 L1070.21 819.09 L1071.26 817.28 L1072.31 815.43 L1073.35 813.56 L1074.4 811.66 L1075.44 809.73 L1076.49 807.77 L1077.54 805.8 L1078.58 803.8 L1079.63 801.78 L1080.68 799.75 L1081.72 797.7 L1082.77 795.63 L1083.82 793.55 L1084.86 791.46 L1085.91 789.36 L1086.95 787.25 L1088 785.14 L1089.05 783.02 L1090.09 780.9 L1091.14 778.79 L1092.19 776.67 L1093.23 774.57 L1094.28 772.47 L1095.33 770.38 L1096.37 768.3 L1097.42 766.23 L1098.46 764.18 L1099.51 762.15 L1100.56 760.14 L1101.6 758.16 L1102.65 756.19 L1103.7 754.25 L1104.74 752.34 L1105.79 750.47 L1106.84 748.62 L1107.88 746.81 L1108.93 745.04 L1109.97 743.3 L1111.02 741.61 L1112.07 739.96 L1113.11 738.35 L1114.16 736.79 L1115.21 735.28 L1116.25 733.83 L1117.3 732.42 L1118.35 731.08 L1119.39 729.79 L1120.44 728.56 L1121.48 727.39 L1122.53 726.28 L1123.58 725.23 L1124.62 724.24 L1125.67 723.31 L1126.72 722.42 L1127.76 721.6 L1128.81 720.82 L1129.86 720.09 L1130.9 719.41 L1131.95 718.77 L1132.99 718.18 L1134.04 717.63 L1135.09 717.12 L1136.13 716.66 L1137.18 716.23 L1138.23 715.84 L1139.27 715.48 L1140.32 715.16 L1141.37 714.86 L1142.41 714.6 L1143.46 714.37 L1144.5 714.16 L1145.55 713.98 L1146.6 713.83 L1147.64 713.69 L1148.69 713.58 L1149.74 713.48 L1150.78 713.41 L1151.83 713.35 L1152.88 713.3 L1153.92 713.27 L1154.97 713.24 L1156.01 713.23 L1157.06 713.23 L1158.11 713.23 L1159.15 713.24 L1160.2 713.26" fill="none" stroke="#000" stroke-width="3.7" stroke-linejoin="round"/>
<rect x="750.6" y="687.3" width="138.4" height="78" fill="#fff" />
<text x="778.6" y="707" font-size="18.5">T<tspan font-size="10.27" dy="7.4">amb</tspan><tspan dy="-7.4">=25°C</tspan></text>
<text x="757" y="735.6" font-size="18.5" text-anchor="start" font-weight="normal" fill="#000" >25mm x 25mm</text>
<text x="785.4" y="758.4" font-size="18.5" text-anchor="start" font-weight="normal" fill="#000" >2oz FR4</text>
<rect x="742.6" y="682.45" width="417.3" height="295.2" fill="none" stroke="#000" stroke-width="2.6" stroke-linejoin="bevel"/>
<text x="734.8" y="982.25" font-size="19.4" text-anchor="end" font-weight="normal" fill="#000" >0</text>
<text x="734.8" y="939.94" font-size="19.4" text-anchor="end" font-weight="normal" fill="#000" >10</text>
<text x="734.8" y="897.62" font-size="19.4" text-anchor="end" font-weight="normal" fill="#000" >20</text>
<text x="734.8" y="855.31" font-size="19.4" text-anchor="end" font-weight="normal" fill="#000" >30</text>
<text x="734.8" y="812.99" font-size="19.4" text-anchor="end" font-weight="normal" fill="#000" >40</text>
<text x="734.8" y="770.68" font-size="19.4" text-anchor="end" font-weight="normal" fill="#000" >50</text>
<text x="734.8" y="728.36" font-size="19.4" text-anchor="end" font-weight="normal" fill="#000" >60</text>
<text x="734.8" y="686.05" font-size="19.4" text-anchor="end" font-weight="normal" fill="#000" >70</text>
<text x="742.6" y="999.5" font-size="19.4" text-anchor="middle" font-weight="normal" fill="#000" >100µ</text>
<text x="802.2" y="999.5" font-size="19.4" text-anchor="middle" font-weight="normal" fill="#000" >1m</text>
<text x="861.8" y="999.5" font-size="19.4" text-anchor="middle" font-weight="normal" fill="#000" >10m</text>
<text x="921.4" y="999.5" font-size="19.4" text-anchor="middle" font-weight="normal" fill="#000" >100m</text>
<text x="981" y="999.5" font-size="19.4" text-anchor="middle" font-weight="normal" fill="#000" >1</text>
<text x="1040.6" y="999.5" font-size="19.4" text-anchor="middle" font-weight="normal" fill="#000" >10</text>
<text x="1100.2" y="999.5" font-size="19.4" text-anchor="middle" font-weight="normal" fill="#000" >100</text>
<text x="1159.8" y="999.5" font-size="19.4" text-anchor="middle" font-weight="normal" fill="#000" >1k</text>
<text transform="translate(690.6 845.6) rotate(-90)" font-size="25.8" text-anchor="middle">Thermal Resistance (°C/W)</text>
<text x="942.6" y="1026.5" font-size="25.8" text-anchor="middle" font-weight="normal" fill="#000" >Pulse Width (s)</text>
<text x="946" y="1056.5" font-size="24.65" text-anchor="middle" font-weight="bold" fill="#000" >Fig 3. Transient Thermal Impedance</text>
<rect x="208.6" y="1122.4" width="417.4" height="295.5" fill="#fff" />
<path d="M226.54 1122.4V1417.9M237.04 1122.4V1417.9M244.48 1122.4V1417.9M250.26 1122.4V1417.9M254.98 1122.4V1417.9M258.97 1122.4V1417.9M262.42 1122.4V1417.9M265.47 1122.4V1417.9M286.14 1122.4V1417.9M296.64 1122.4V1417.9M304.08 1122.4V1417.9M309.86 1122.4V1417.9M314.58 1122.4V1417.9M318.57 1122.4V1417.9M322.02 1122.4V1417.9M325.07 1122.4V1417.9M345.74 1122.4V1417.9M356.24 1122.4V1417.9M363.68 1122.4V1417.9M369.46 1122.4V1417.9M374.18 1122.4V1417.9M378.17 1122.4V1417.9M381.62 1122.4V1417.9M384.67 1122.4V1417.9M405.34 1122.4V1417.9M415.84 1122.4V1417.9M423.28 1122.4V1417.9M429.06 1122.4V1417.9M433.78 1122.4V1417.9M437.77 1122.4V1417.9M441.22 1122.4V1417.9M444.27 1122.4V1417.9M464.94 1122.4V1417.9M475.44 1122.4V1417.9M482.88 1122.4V1417.9M488.66 1122.4V1417.9M493.38 1122.4V1417.9M497.37 1122.4V1417.9M500.82 1122.4V1417.9M503.87 1122.4V1417.9M524.54 1122.4V1417.9M535.04 1122.4V1417.9M542.48 1122.4V1417.9M548.26 1122.4V1417.9M552.98 1122.4V1417.9M556.97 1122.4V1417.9M560.42 1122.4V1417.9M563.47 1122.4V1417.9M584.14 1122.4V1417.9M594.64 1122.4V1417.9M602.08 1122.4V1417.9M607.86 1122.4V1417.9M612.58 1122.4V1417.9M616.57 1122.4V1417.9M620.02 1122.4V1417.9M623.07 1122.4V1417.9" stroke="#c9c9c9" stroke-width="1.5" fill="none"/>
<path d="M208.6 1417.32H626M208.6 1410.83H626M208.6 1405.12H626M208.6 1366.34H626M208.6 1346.66H626M208.6 1332.69H626M208.6 1321.86H626M208.6 1313H626M208.6 1305.52H626M208.6 1299.03H626M208.6 1293.32H626M208.6 1254.54H626M208.6 1234.86H626M208.6 1220.89H626M208.6 1210.06H626M208.6 1201.2H626M208.6 1193.72H626M208.6 1187.23H626M208.6 1181.52H626M208.6 1142.74H626" stroke="#c9c9c9" stroke-width="1.5" fill="none"/>
<path d="M268.2 1122.4V1417.9M327.8 1122.4V1417.9M387.4 1122.4V1417.9M447 1122.4V1417.9M506.6 1122.4V1417.9M566.2 1122.4V1417.9" stroke="#8a8a8a" stroke-width="1.5" fill="none"/>
<path d="M208.6 1400H626M208.6 1288.2H626M208.6 1176.4H626" stroke="#8a8a8a" stroke-width="1.5" fill="none"/>
<rect x="489" y="1131" width="116" height="55" fill="#fff" />
<text x="495.6" y="1149" font-size="18.5" text-anchor="start" font-weight="normal" fill="#000" >Single Pulse</text>
<text x="505" y="1172" font-size="18.5">T<tspan font-size="10.27" dy="7.4">amb</tspan><tspan dy="-7.4">=25°C</tspan></text>
<rect x="481" y="1263" width="139" height="45" fill="#fff" />
<text x="487.6" y="1279.6" font-size="18.5" text-anchor="start" font-weight="normal" fill="#000" >25mm x 25mm</text>
<text x="516" y="1302.4" font-size="18.5" text-anchor="start" font-weight="normal" fill="#000" >2oz FR4</text>
<rect x="343" y="1383" width="129" height="24" fill="#fff" />
<text x="350" y="1400.4" font-size="18.5" text-anchor="start" font-weight="normal" fill="#000" >MRP 2oz FR4</text>
<path d="M208.5 1157.09 L209.9 1158.3 L211.29 1159.51 L212.69 1160.73 L214.09 1161.96 L215.48 1163.2 L216.88 1164.44 L218.28 1165.69 L219.68 1166.94 L221.07 1168.21 L222.47 1169.48 L223.87 1170.75 L225.26 1172.03 L226.66 1173.32 L228.06 1174.62 L229.45 1175.92 L230.85 1177.23 L232.25 1178.54 L233.65 1179.86 L235.04 1181.19 L236.44 1182.52 L237.84 1183.85 L239.23 1185.2 L240.63 1186.55 L242.03 1187.9 L243.42 1189.25 L244.82 1190.61 L246.22 1191.97 L247.62 1193.34 L249.01 1194.7 L250.41 1196.07 L251.81 1197.44 L253.2 1198.8 L254.6 1200.17 L256 1201.53 L257.39 1202.9 L258.79 1204.26 L260.19 1205.61 L261.59 1206.97 L262.98 1208.32 L264.38 1209.66 L265.78 1211 L267.17 1212.33 L268.57 1213.66 L269.97 1214.98 L271.36 1216.29 L272.76 1217.59 L274.16 1218.88 L275.56 1220.17 L276.95 1221.44 L278.35 1222.71 L279.75 1223.96 L281.14 1225.2 L282.54 1226.43 L283.94 1227.65 L285.33 1228.85 L286.73 1230.04 L288.13 1231.21 L289.53 1232.37 L290.92 1233.51 L292.32 1234.64 L293.72 1235.75 L295.11 1236.84 L296.51 1237.91 L297.91 1238.97 L299.3 1240.01 L300.7 1241.03 L302.1 1242.04 L303.5 1243.03 L304.89 1244.01 L306.29 1244.97 L307.69 1245.91 L309.08 1246.85 L310.48 1247.76 L311.88 1248.67 L313.27 1249.56 L314.67 1250.43 L316.07 1251.3 L317.47 1252.15 L318.86 1252.99 L320.26 1253.81 L321.66 1254.63 L323.05 1255.43 L324.45 1256.23 L325.85 1257.01 L327.24 1257.78 L328.64 1258.54 L330.04 1259.3 L331.44 1260.04 L332.83 1260.77 L334.23 1261.5 L335.63 1262.22 L337.02 1262.92 L338.42 1263.63 L339.82 1264.32 L341.21 1265.01 L342.61 1265.69 L344.01 1266.36 L345.41 1267.03 L346.8 1267.69 L348.2 1268.35 L349.6 1269 L350.99 1269.65 L352.39 1270.29 L353.79 1270.93 L355.18 1271.56 L356.58 1272.19 L357.98 1272.82 L359.37 1273.45 L360.77 1274.07 L362.17 1274.69 L363.57 1275.31 L364.96 1275.93 L366.36 1276.54 L367.76 1277.16 L369.15 1277.77 L370.55 1278.39 L371.95 1279 L373.34 1279.61 L374.74 1280.22 L376.14 1280.83 L377.54 1281.43 L378.93 1282.04 L380.33 1282.64 L381.73 1283.24 L383.12 1283.83 L384.52 1284.43 L385.92 1285.02 L387.31 1285.61 L388.71 1286.2 L390.11 1286.78 L391.51 1287.36 L392.9 1287.94 L394.3 1288.52 L395.7 1289.09 L397.09 1289.65 L398.49 1290.22 L399.89 1290.78 L401.28 1291.33 L402.68 1291.88 L404.08 1292.43 L405.48 1292.97 L406.87 1293.51 L408.27 1294.04 L409.67 1294.57 L411.06 1295.09 L412.46 1295.61 L413.86 1296.13 L415.25 1296.63 L416.65 1297.13 L418.05 1297.63 L419.45 1298.12 L420.84 1298.61 L422.24 1299.08 L423.64 1299.56 L425.03 1300.02 L426.43 1300.48 L427.83 1300.93 L429.22 1301.38 L430.62 1301.82 L432.02 1302.25 L433.42 1302.67 L434.81 1303.09 L436.21 1303.5 L437.61 1303.9 L439 1304.3 L440.4 1304.69 L441.8 1305.07 L443.19 1305.45 L444.59 1305.82 L445.99 1306.18 L447.39 1306.54 L448.78 1306.9 L450.18 1307.25 L451.58 1307.6 L452.97 1307.95 L454.37 1308.29 L455.77 1308.63 L457.16 1308.97 L458.56 1309.3 L459.96 1309.64 L461.36 1309.97 L462.75 1310.3 L464.15 1310.63 L465.55 1310.97 L466.94 1311.3 L468.34 1311.63 L469.74 1311.96 L471.13 1312.3 L472.53 1312.63 L473.93 1312.97 L475.33 1313.31 L476.72 1313.66 L478.12 1314 L479.52 1314.35 L480.91 1314.71 L482.31 1315.06 L483.71 1315.43 L485.1 1315.79 L486.5 1316.17 L487.9 1316.55 L489.29 1316.93 L490.69 1317.32 L492.09 1317.72 L493.49 1318.12 L494.88 1318.53 L496.28 1318.95 L497.68 1319.38 L499.07 1319.82 L500.47 1320.26 L501.87 1320.72 L503.26 1321.18 L504.66 1321.66 L506.06 1322.14 L507.46 1322.64 L508.85 1323.14 L510.25 1323.66 L511.65 1324.19 L513.04 1324.73 L514.44 1325.28 L515.84 1325.85 L517.23 1326.43 L518.63 1327.02 L520.03 1327.63 L521.43 1328.25 L522.82 1328.89 L524.22 1329.53 L525.62 1330.19 L527.01 1330.86 L528.41 1331.54 L529.81 1332.23 L531.2 1332.92 L532.6 1333.62 L534 1334.33 L535.4 1335.03 L536.79 1335.75 L538.19 1336.46 L539.59 1337.18 L540.98 1337.89 L542.38 1338.6 L543.78 1339.32 L545.17 1340.02 L546.57 1340.73 L547.97 1341.43 L549.37 1342.12 L550.76 1342.81 L552.16 1343.48 L553.56 1344.15 L554.95 1344.81 L556.35 1345.45 L557.75 1346.09 L559.14 1346.71 L560.54 1347.31 L561.94 1347.9 L563.34 1348.47 L564.73 1349.03 L566.13 1349.56 L567.53 1350.08 L568.92 1350.58 L570.32 1351.05 L571.72 1351.51 L573.11 1351.95 L574.51 1352.37 L575.91 1352.77 L577.31 1353.16 L578.7 1353.53 L580.1 1353.88 L581.5 1354.21 L582.89 1354.53 L584.29 1354.83 L585.69 1355.11 L587.08 1355.39 L588.48 1355.64 L589.88 1355.88 L591.28 1356.11 L592.67 1356.32 L594.07 1356.52 L595.47 1356.71 L596.86 1356.89 L598.26 1357.05 L599.66 1357.2 L601.05 1357.34 L602.45 1357.46 L603.85 1357.58 L605.25 1357.69 L606.64 1357.78 L608.04 1357.87 L609.44 1357.95 L610.83 1358.01 L612.23 1358.07 L613.63 1358.12 L615.02 1358.17 L616.42 1358.2 L617.82 1358.23 L619.22 1358.25 L620.61 1358.26 L622.01 1358.27 L623.41 1358.27 L624.8 1358.27 L626.2 1358.26" fill="none" stroke="#000" stroke-width="3.7" stroke-linejoin="round"/>
<path d="M208.5 1167.49 L209.9 1168.74 L211.29 1170 L212.69 1171.25 L214.09 1172.51 L215.48 1173.76 L216.88 1175.03 L218.28 1176.29 L219.68 1177.55 L221.07 1178.82 L222.47 1180.09 L223.87 1181.37 L225.26 1182.65 L226.66 1183.93 L228.06 1185.22 L229.45 1186.51 L230.85 1187.8 L232.25 1189.11 L233.65 1190.41 L235.04 1191.72 L236.44 1193.04 L237.84 1194.37 L239.23 1195.7 L240.63 1197.04 L242.03 1198.38 L243.42 1199.72 L244.82 1201.07 L246.22 1202.42 L247.62 1203.77 L249.01 1205.12 L250.41 1206.47 L251.81 1207.81 L253.2 1209.16 L254.6 1210.5 L256 1211.84 L257.39 1213.17 L258.79 1214.5 L260.19 1215.82 L261.59 1217.13 L262.98 1218.43 L264.38 1219.72 L265.78 1221 L267.17 1222.27 L268.57 1223.53 L269.97 1224.78 L271.36 1226.01 L272.76 1227.22 L274.16 1228.42 L275.56 1229.61 L276.95 1230.77 L278.35 1231.92 L279.75 1233.04 L281.14 1234.15 L282.54 1235.24 L283.94 1236.3 L285.33 1237.35 L286.73 1238.37 L288.13 1239.38 L289.53 1240.37 L290.92 1241.35 L292.32 1242.31 L293.72 1243.26 L295.11 1244.2 L296.51 1245.13 L297.91 1246.05 L299.3 1246.96 L300.7 1247.86 L302.1 1248.76 L303.5 1249.65 L304.89 1250.53 L306.29 1251.42 L307.69 1252.3 L309.08 1253.18 L310.48 1254.06 L311.88 1254.94 L313.27 1255.82 L314.67 1256.7 L316.07 1257.57 L317.47 1258.45 L318.86 1259.32 L320.26 1260.2 L321.66 1261.08 L323.05 1261.95 L324.45 1262.83 L325.85 1263.71 L327.24 1264.58 L328.64 1265.46 L330.04 1266.34 L331.44 1267.22 L332.83 1268.11 L334.23 1268.99 L335.63 1269.88 L337.02 1270.76 L338.42 1271.65 L339.82 1272.54 L341.21 1273.44 L342.61 1274.33 L344.01 1275.23 L345.41 1276.13 L346.8 1277.04 L348.2 1277.94 L349.6 1278.85 L350.99 1279.77 L352.39 1280.69 L353.79 1281.61 L355.18 1282.53 L356.58 1283.46 L357.98 1284.39 L359.37 1285.33 L360.77 1286.27 L362.17 1287.21 L363.57 1288.16 L364.96 1289.12 L366.36 1290.07 L367.76 1291.04 L369.15 1292.01 L370.55 1292.98 L371.95 1293.96 L373.34 1294.94 L374.74 1295.93 L376.14 1296.93 L377.54 1297.93 L378.93 1298.94 L380.33 1299.95 L381.73 1300.97 L383.12 1301.99 L384.52 1303.02 L385.92 1304.06 L387.31 1305.11 L388.71 1306.16 L390.11 1307.22 L391.51 1308.28 L392.9 1309.35 L394.3 1310.44 L395.7 1311.52 L397.09 1312.62 L398.49 1313.72 L399.89 1314.83 L401.28 1315.95 L402.68 1317.08 L404.08 1318.22 L405.48 1319.36 L406.87 1320.52 L408.27 1321.68 L409.67 1322.86 L411.06 1324.04 L412.46 1325.23 L413.86 1326.43 L415.25 1327.65 L416.65 1328.87 L418.05 1330.1 L419.45 1331.34 L420.84 1332.6 L422.24 1333.85 L423.64 1335.12 L425.03 1336.38 L426.43 1337.64 L427.83 1338.89 L429.22 1340.14 L430.62 1341.37 L432.02 1342.6 L433.42 1343.8 L434.81 1344.98 L436.21 1346.15 L437.61 1347.28 L439 1348.39 L440.4 1349.47 L441.8 1350.52 L443.19 1351.55 L444.59 1352.55 L445.99 1353.53 L447.39 1354.48 L448.78 1355.41 L450.18 1356.32 L451.58 1357.21 L452.97 1358.08 L454.37 1358.92 L455.77 1359.75 L457.16 1360.56 L458.56 1361.36 L459.96 1362.14 L461.36 1362.9 L462.75 1363.65 L464.15 1364.38 L465.55 1365.1 L466.94 1365.81 L468.34 1366.51 L469.74 1367.2 L471.13 1367.87 L472.53 1368.54 L473.93 1369.2 L475.33 1369.86 L476.72 1370.5 L478.12 1371.15 L479.52 1371.78 L480.91 1372.42 L482.31 1373.05 L483.71 1373.67 L485.1 1374.3 L486.5 1374.93 L487.9 1375.55 L489.29 1376.17 L490.69 1376.8 L492.09 1377.42 L493.49 1378.03 L494.88 1378.65 L496.28 1379.26 L497.68 1379.87 L499.07 1380.48 L500.47 1381.09 L501.87 1381.69 L503.26 1382.28 L504.66 1382.88 L506.06 1383.47 L507.46 1384.05 L508.85 1384.64 L510.25 1385.21 L511.65 1385.78 L513.04 1386.35 L514.44 1386.91 L515.84 1387.47 L517.23 1388.02 L518.63 1388.56 L520.03 1389.1 L521.43 1389.63 L522.82 1390.16 L524.22 1390.68 L525.62 1391.19 L527.01 1391.69 L528.41 1392.19 L529.81 1392.68 L531.2 1393.16 L532.6 1393.63 L534 1394.09 L535.4 1394.55 L536.79 1394.99 L538.19 1395.43 L539.59 1395.86 L540.98 1396.28 L542.38 1396.69 L543.78 1397.08 L545.17 1397.47 L546.57 1397.85 L547.97 1398.22 L549.37 1398.58 L550.76 1398.92 L552.16 1399.26 L553.56 1399.59 L554.95 1399.91 L556.35 1400.22 L557.75 1400.51 L559.14 1400.8 L560.54 1401.09 L561.94 1401.36 L563.34 1401.62 L564.73 1401.87 L566.13 1402.12 L567.53 1402.36 L568.92 1402.59 L570.32 1402.81 L571.72 1403.02 L573.11 1403.22 L574.51 1403.42 L575.91 1403.61 L577.31 1403.79 L578.7 1403.96 L580.1 1404.13 L581.5 1404.29 L582.89 1404.44 L584.29 1404.59 L585.69 1404.72 L587.08 1404.86 L588.48 1404.98 L589.88 1405.1 L591.28 1405.21 L592.67 1405.32 L594.07 1405.42 L595.47 1405.51 L596.86 1405.6 L598.26 1405.68 L599.66 1405.76 L601.05 1405.83 L602.45 1405.9 L603.85 1405.96 L605.25 1406.02 L606.64 1406.07 L608.04 1406.12 L609.44 1406.16 L610.83 1406.2 L612.23 1406.23 L613.63 1406.26 L615.02 1406.29 L616.42 1406.31 L617.82 1406.33 L619.22 1406.34 L620.61 1406.35 L622.01 1406.36 L623.41 1406.37 L624.8 1406.37 L626.2 1406.36" fill="none" stroke="#000" stroke-width="3.7" stroke-linejoin="round"/>
<rect x="208.6" y="1122.4" width="417.4" height="295.5" fill="none" stroke="#000" stroke-width="2.6" stroke-linejoin="bevel"/>
<text x="201" y="1182.3" font-size="19.4" text-anchor="end" font-weight="normal" fill="#000" >100</text>
<text x="201" y="1294.1" font-size="19.4" text-anchor="end" font-weight="normal" fill="#000" >10</text>
<text x="201" y="1405.9" font-size="19.4" text-anchor="end" font-weight="normal" fill="#000" >1</text>
<text x="208.6" y="1439.5" font-size="19.4" text-anchor="middle" font-weight="normal" fill="#000" >100µ</text>
<text x="268.2" y="1439.5" font-size="19.4" text-anchor="middle" font-weight="normal" fill="#000" >1m</text>
<text x="327.8" y="1439.5" font-size="19.4" text-anchor="middle" font-weight="normal" fill="#000" >10m</text>
<text x="387.4" y="1439.5" font-size="19.4" text-anchor="middle" font-weight="normal" fill="#000" >100m</text>
<text x="447" y="1439.5" font-size="19.4" text-anchor="middle" font-weight="normal" fill="#000" >1</text>
<text x="506.6" y="1439.5" font-size="19.4" text-anchor="middle" font-weight="normal" fill="#000" >10</text>
<text x="566.2" y="1439.5" font-size="19.4" text-anchor="middle" font-weight="normal" fill="#000" >100</text>
<text x="625.8" y="1439.5" font-size="19.4" text-anchor="middle" font-weight="normal" fill="#000" >1k</text>
<text transform="translate(157.5 1282.5) rotate(-90)" font-size="25.8" text-anchor="middle">Max Power Dissipation (W)</text>
<text x="417.5" y="1467.5" font-size="25.8" text-anchor="middle" font-weight="normal" fill="#000" >Pulse Width (s)</text>
<text x="429" y="1502" font-size="24.65" text-anchor="middle" font-weight="bold" fill="#000" >Fig 4. Pulse Power Dissipation</text>
<rect x="742.6" y="1122.4" width="417.3" height="295.5" fill="#fff" />
<path d="M802.21 1122.4V1417.9M861.83 1122.4V1417.9M921.44 1122.4V1417.9M981.06 1122.4V1417.9M1040.67 1122.4V1417.9M1100.29 1122.4V1417.9" stroke="#909090" stroke-width="1.5" fill="none"/>
<path d="M742.6 1358.8H1159.9M742.6 1299.7H1159.9M742.6 1240.6H1159.9M742.6 1181.5H1159.9" stroke="#909090" stroke-width="1.5" fill="none"/>
<rect x="865" y="1125" width="132" height="50" fill="#fff" />
<text x="870" y="1145.6" font-size="18.5" text-anchor="start" font-weight="normal" fill="#000" >25mm x 25mm</text>
<text x="899.6" y="1168.4" font-size="18.5" text-anchor="start" font-weight="normal" fill="#000" >2oz FR4</text>
<rect x="745" y="1267" width="128" height="26" fill="#fff" />
<text x="755.6" y="1285.6" font-size="18.5" text-anchor="start" font-weight="normal" fill="#000" >MRP 2oz FR4</text>
<path d="M742.6 1134.22 L802.21 1134.22 L1159.9 1417.9" fill="none" stroke="#000" stroke-width="3.7" stroke-linejoin="miter"/>
<path d="M742.6 1311.52 L802.21 1311.52 L1159.9 1417.9" fill="none" stroke="#000" stroke-width="3.7" stroke-linejoin="miter"/>
<rect x="742.6" y="1122.4" width="417.3" height="295.5" fill="none" stroke="#000" stroke-width="2.6" stroke-linejoin="bevel"/>
<text x="734.8" y="1423.8" font-size="19.4" text-anchor="end" font-weight="normal" fill="#000" >0.0</text>
<text x="734.8" y="1364.7" font-size="19.4" text-anchor="end" font-weight="normal" fill="#000" >0.5</text>
<text x="734.8" y="1305.6" font-size="19.4" text-anchor="end" font-weight="normal" fill="#000" >1.0</text>
<text x="734.8" y="1246.5" font-size="19.4" text-anchor="end" font-weight="normal" fill="#000" >1.5</text>
<text x="734.8" y="1187.4" font-size="19.4" text-anchor="end" font-weight="normal" fill="#000" >2.0</text>
<text x="734.8" y="1128.3" font-size="19.4" text-anchor="end" font-weight="normal" fill="#000" >2.5</text>
<text x="742.6" y="1439.4" font-size="19.4" text-anchor="middle" font-weight="normal" fill="#000" >0</text>
<text x="802.21" y="1439.4" font-size="19.4" text-anchor="middle" font-weight="normal" fill="#000" >25</text>
<text x="861.83" y="1439.4" font-size="19.4" text-anchor="middle" font-weight="normal" fill="#000" >50</text>
<text x="921.44" y="1439.4" font-size="19.4" text-anchor="middle" font-weight="normal" fill="#000" >75</text>
<text x="981.06" y="1439.4" font-size="19.4" text-anchor="middle" font-weight="normal" fill="#000" >100</text>
<text x="1040.67" y="1439.4" font-size="19.4" text-anchor="middle" font-weight="normal" fill="#000" >125</text>
<text x="1100.29" y="1439.4" font-size="19.4" text-anchor="middle" font-weight="normal" fill="#000" >150</text>
<text x="1159.9" y="1439.4" font-size="19.4" text-anchor="middle" font-weight="normal" fill="#000" >175</text>
<text transform="translate(691 1281) rotate(-90)" font-size="25.8" text-anchor="middle">Max Power Dissipation (W)</text>
<text x="933.6" y="1468" font-size="26.1" text-anchor="middle" font-weight="normal" fill="#000" >Temperature (°C)</text>
<text x="937.7" y="1500" font-size="24.65" text-anchor="middle" font-weight="bold" fill="#000" >Fig 5. Derating Curve</text>
<text x="115.6" y="1599.8" font-size="21" text-anchor="start" font-weight="normal" fill="#000" >DXTN80060DFGQ</text>
<text x="116.3" y="1617.7" font-size="14.58" text-anchor="start" font-weight="normal" fill="#000" >Document number: DS46958 Rev. 2 - 2</text>
<text x="658.7" y="1596.4" font-size="16.67" text-anchor="middle" font-weight="normal" fill="#000" >3 of 8</text>
<text x="658.7" y="1614.9" font-size="16.67" text-anchor="middle" font-weight="bold" fill="#000" >www.diodes.com</text>
<text x="1201.2" y="1598" font-size="16.67" text-anchor="end" font-weight="normal" fill="#000" >August 2025</text>
<text x="1201.3" y="1613" font-size="12.56" text-anchor="end" font-weight="normal" fill="#000" >© 2025 Copyright Diodes Incorporated. All Rights Reserved.</text>
</svg>
</body></html>
